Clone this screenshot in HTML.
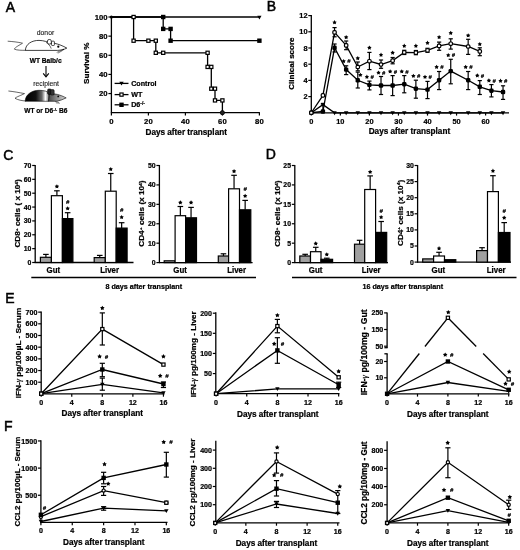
<!DOCTYPE html>
<html><head><meta charset="utf-8"><style>
html,body{margin:0;padding:0;background:#fff;}
svg{display:block;font-family:"Liberation Sans", sans-serif;will-change:transform;}
</style></head><body>
<svg width="520" height="550" viewBox="0 0 520 550">
<rect width="520" height="550" fill="#fff"/>
<text x="10.30" y="12.20" font-size="14" text-anchor="middle" font-weight="normal" fill="#000" stroke="#000" stroke-width="0.5">A</text>
<line x1="111.40" y1="16.50" x2="111.40" y2="113.20" stroke="#000" stroke-width="1.3"/>
<line x1="110.90" y1="112.70" x2="259.90" y2="112.70" stroke="#000" stroke-width="1.3"/>
<line x1="108.40" y1="93.56" x2="111.40" y2="93.56" stroke="#000" stroke-width="1.2"/>
<text x="107.60" y="96.33" font-size="7.7" text-anchor="end" font-weight="bold" fill="#000" stroke="#000" stroke-width="0.22">20</text>
<line x1="108.40" y1="74.42" x2="111.40" y2="74.42" stroke="#000" stroke-width="1.2"/>
<text x="107.60" y="77.19" font-size="7.7" text-anchor="end" font-weight="bold" fill="#000" stroke="#000" stroke-width="0.22">40</text>
<line x1="108.40" y1="55.28" x2="111.40" y2="55.28" stroke="#000" stroke-width="1.2"/>
<text x="107.60" y="58.05" font-size="7.7" text-anchor="end" font-weight="bold" fill="#000" stroke="#000" stroke-width="0.22">60</text>
<line x1="108.40" y1="36.14" x2="111.40" y2="36.14" stroke="#000" stroke-width="1.2"/>
<text x="107.60" y="38.91" font-size="7.7" text-anchor="end" font-weight="bold" fill="#000" stroke="#000" stroke-width="0.22">80</text>
<line x1="108.40" y1="17.00" x2="111.40" y2="17.00" stroke="#000" stroke-width="1.2"/>
<text x="107.60" y="19.77" font-size="7.7" text-anchor="end" font-weight="bold" fill="#000" stroke="#000" stroke-width="0.22">100</text>
<line x1="111.40" y1="112.70" x2="111.40" y2="115.50" stroke="#000" stroke-width="1.2"/>
<text x="111.40" y="123.60" font-size="7.7" text-anchor="middle" font-weight="bold" fill="#000" stroke="#000" stroke-width="0.22">0</text>
<line x1="148.40" y1="112.70" x2="148.40" y2="115.50" stroke="#000" stroke-width="1.2"/>
<text x="148.40" y="123.60" font-size="7.7" text-anchor="middle" font-weight="bold" fill="#000" stroke="#000" stroke-width="0.22">20</text>
<line x1="185.40" y1="112.70" x2="185.40" y2="115.50" stroke="#000" stroke-width="1.2"/>
<text x="185.40" y="123.60" font-size="7.7" text-anchor="middle" font-weight="bold" fill="#000" stroke="#000" stroke-width="0.22">40</text>
<line x1="222.40" y1="112.70" x2="222.40" y2="115.50" stroke="#000" stroke-width="1.2"/>
<text x="222.40" y="123.60" font-size="7.7" text-anchor="middle" font-weight="bold" fill="#000" stroke="#000" stroke-width="0.22">60</text>
<line x1="259.40" y1="112.70" x2="259.40" y2="115.50" stroke="#000" stroke-width="1.2"/>
<text x="259.40" y="123.60" font-size="7.7" text-anchor="middle" font-weight="bold" fill="#000" stroke="#000" stroke-width="0.22">80</text>
<text x="186.20" y="134.60" font-size="8.2" text-anchor="middle" font-weight="bold" fill="#000" stroke="#000" stroke-width="0.22">Days after transplant</text>
<text x="89.10" y="63.25" font-size="7.6" text-anchor="middle" font-weight="bold" fill="#000" stroke="#000" stroke-width="0.22" transform="rotate(-90 89.10 63.25)" textLength="41.5" lengthAdjust="spacingAndGlyphs">Survival %</text>
<line x1="111.40" y1="17.00" x2="259.40" y2="17.00" stroke="#000" stroke-width="1.3"/>
<polygon points="257.30,15.73 261.50,15.73 259.40,19.40" fill="#000"/>
<polyline points="111.40,17.00 163.20,17.00 163.20,28.90 170.60,28.90 170.60,40.70 259.40,40.70" fill="none" stroke="#000" stroke-width="1.3" stroke-linejoin="miter"/>
<rect x="161.00" y="14.80" width="4.40" height="4.40" fill="#000"/>
<rect x="161.00" y="26.70" width="4.40" height="4.40" fill="#000"/>
<rect x="168.40" y="26.70" width="4.40" height="4.40" fill="#000"/>
<rect x="168.40" y="38.50" width="4.40" height="4.40" fill="#000"/>
<rect x="257.20" y="38.50" width="4.40" height="4.40" fill="#000"/>
<polyline points="111.40,17.00 133.60,17.00 133.60,40.70 155.80,40.70 155.80,52.80 207.60,52.80 207.60,66.90 211.30,66.90 211.30,88.70 215.00,88.70 215.00,100.40 222.40,100.40 222.40,112.70" fill="none" stroke="#000" stroke-width="1.3" stroke-linejoin="miter"/>
<rect x="132.00" y="15.40" width="3.20" height="3.20" fill="#fff" stroke="#000" stroke-width="1.2"/>
<rect x="132.00" y="39.10" width="3.20" height="3.20" fill="#fff" stroke="#000" stroke-width="1.2"/>
<rect x="146.80" y="39.10" width="3.20" height="3.20" fill="#fff" stroke="#000" stroke-width="1.2"/>
<rect x="154.20" y="39.10" width="3.20" height="3.20" fill="#fff" stroke="#000" stroke-width="1.2"/>
<rect x="154.20" y="51.20" width="3.20" height="3.20" fill="#fff" stroke="#000" stroke-width="1.2"/>
<rect x="161.60" y="51.20" width="3.20" height="3.20" fill="#fff" stroke="#000" stroke-width="1.2"/>
<rect x="206.00" y="51.20" width="3.20" height="3.20" fill="#fff" stroke="#000" stroke-width="1.2"/>
<rect x="206.00" y="65.30" width="3.20" height="3.20" fill="#fff" stroke="#000" stroke-width="1.2"/>
<rect x="209.70" y="65.30" width="3.20" height="3.20" fill="#fff" stroke="#000" stroke-width="1.2"/>
<rect x="209.70" y="87.10" width="3.20" height="3.20" fill="#fff" stroke="#000" stroke-width="1.2"/>
<rect x="213.40" y="87.10" width="3.20" height="3.20" fill="#fff" stroke="#000" stroke-width="1.2"/>
<rect x="213.40" y="98.80" width="3.20" height="3.20" fill="#fff" stroke="#000" stroke-width="1.2"/>
<rect x="220.80" y="98.80" width="3.20" height="3.20" fill="#fff" stroke="#000" stroke-width="1.2"/>
<circle cx="222.40" cy="112.70" r="2.1" fill="#222" stroke="#000" stroke-width="0.8"/>
<circle cx="111.40" cy="17.00" r="1.6" fill="#000"/>
<line x1="114.60" y1="83.40" x2="128.50" y2="83.40" stroke="#000" stroke-width="1.3"/>
<polygon points="119.30,81.75 123.70,81.75 121.50,85.60" fill="#000"/>
<text x="131.20" y="86.00" font-size="7.15" text-anchor="start" font-weight="bold" fill="#000" stroke="#000" stroke-width="0.22">Control</text>
<line x1="114.60" y1="94.60" x2="128.50" y2="94.60" stroke="#000" stroke-width="1.3"/>
<rect x="119.90" y="93.00" width="3.20" height="3.20" fill="#fff" stroke="#000" stroke-width="1.2"/>
<text x="131.20" y="97.20" font-size="7.15" text-anchor="start" font-weight="bold" fill="#000" stroke="#000" stroke-width="0.22">WT</text>
<line x1="114.60" y1="104.80" x2="128.50" y2="104.80" stroke="#000" stroke-width="1.3"/>
<rect x="119.30" y="102.60" width="4.40" height="4.40" fill="#000"/>
<text x="131.20" y="107.40" font-size="7.15" text-anchor="start" font-weight="bold" fill="#000" stroke="#000" stroke-width="0.22">D6<tspan font-size="4.8" dy="-2.8">-/-</tspan></text>
<text x="45.50" y="34.80" font-size="6.8" text-anchor="middle" font-weight="normal" fill="#222" stroke="#222" stroke-width="0.12">donor</text>
<text x="45.70" y="62.60" font-size="6.6" text-anchor="middle" font-weight="bold" fill="#000" stroke="#000" stroke-width="0.22">WT Balb/c</text>
<text x="46.10" y="85.90" font-size="6.8" text-anchor="middle" font-weight="normal" fill="#222" stroke="#222" stroke-width="0.12">recipient</text>
<text x="45.90" y="113.30" font-size="6.6" text-anchor="middle" font-weight="bold" fill="#000" stroke="#000" stroke-width="0.22">WT or D6<tspan font-size="4.3" dy="-2.6">-/-</tspan><tspan dy="2.6"> B6</tspan></text>
<line x1="46.00" y1="66.00" x2="46.00" y2="76.60" stroke="#000" stroke-width="1.1"/>
<polyline points="43.20,73.40 46.00,76.80 48.80,73.40" fill="none" stroke="#000" stroke-width="1.1" stroke-linejoin="miter"/>
<path d="M7.7,41.2 C12,41.5 18,42 22.5,43.2 C20,45 15,47 14.4,49.2 C17,50.3 22,50.4 26,50.3" fill="none" stroke="#000" stroke-width="0.6"/>
<path d="M25.4,50.4 C25.5,44 32,40.3 39,40.4 C44,40.5 48,42 51,43.6 L54.4,43.3 C59,44.2 63,46 66.8,48.1 C64,49.6 61,50.2 57.3,50.4 Z" fill="#fff" stroke="#000" stroke-width="0.75"/>
<path d="M46,42.3 C48.5,44 50.5,46 51.2,48.6" fill="none" stroke="#000" stroke-width="0.6"/>
<rect x="47.5" y="39.5" width="3.8" height="4.6" rx="1.5" fill="#fff" stroke="#000" stroke-width="0.7"/>
<rect x="51.5" y="41.2" width="2.9" height="4.3" rx="0.7" fill="#fff" stroke="#000" stroke-width="0.7"/>
<circle cx="58.3" cy="46.7" r="1.1" fill="#000"/>
<circle cx="63.2" cy="49.5" r="0.7" fill="#000"/>
<path d="M62.5,49.9 L56.7,52.4 M62.8,50.4 L57.8,53.2" stroke="#000" stroke-width="0.5" fill="none"/>
<defs><linearGradient id="bodyg" x1="0" x2="1" y1="0" y2="0"><stop offset="0" stop-color="#000"/><stop offset="0.45" stop-color="#111"/><stop offset="0.7" stop-color="#666"/><stop offset="0.85" stop-color="#fff"/><stop offset="1" stop-color="#777"/></linearGradient><linearGradient id="headg" x1="0" x2="1" y1="0" y2="0"><stop offset="0" stop-color="#444"/><stop offset="1" stop-color="#ddd"/></linearGradient></defs>
<path d="M8.4,91 C13,91.5 19,92.5 24.5,93.6 C22,95 16,97 15,98.3 C18,100 22,100.8 26,101" fill="none" stroke="#000" stroke-width="0.6"/>
<path d="M66.2,97.9 C60,94.6 55,93.3 49,93.8 L48.4,101.3 L57,101.3 C60,100.5 63,99.5 66.2,97.9 Z" fill="url(#headg)" stroke="#000" stroke-width="0.6"/>
<path d="M25.2,101.2 C25.3,94.5 32,90.3 39,90.3 C44,90.3 47.5,91.5 49,93 L48.5,101.3 Z" fill="url(#bodyg)" stroke="#000" stroke-width="0.6"/>
<rect x="47.6" y="88.9" width="3.6" height="5.5" rx="1.2" fill="#222" stroke="#000" stroke-width="0.5"/>
<rect x="50.6" y="89.6" width="3.6" height="5.5" rx="1.2" fill="#333" stroke="#000" stroke-width="0.5"/>
<circle cx="58.2" cy="96.4" r="0.9" fill="#000"/>
<path d="M55,101.6 L59,102.6 M56,102.9 L60,103.3" stroke="#000" stroke-width="0.4" fill="none"/>
<text x="271.50" y="11.40" font-size="14" text-anchor="middle" font-weight="normal" fill="#000" stroke="#000" stroke-width="0.5">B</text>
<line x1="311.30" y1="15.10" x2="311.30" y2="113.30" stroke="#000" stroke-width="1.3"/>
<line x1="310.80" y1="112.80" x2="509.00" y2="112.80" stroke="#000" stroke-width="1.3"/>
<line x1="308.30" y1="96.60" x2="311.30" y2="96.60" stroke="#000" stroke-width="1.2"/>
<text x="307.50" y="99.26" font-size="7.4" text-anchor="end" font-weight="bold" fill="#000" stroke="#000" stroke-width="0.22">2</text>
<line x1="308.30" y1="80.40" x2="311.30" y2="80.40" stroke="#000" stroke-width="1.2"/>
<text x="307.50" y="83.06" font-size="7.4" text-anchor="end" font-weight="bold" fill="#000" stroke="#000" stroke-width="0.22">4</text>
<line x1="308.30" y1="64.20" x2="311.30" y2="64.20" stroke="#000" stroke-width="1.2"/>
<text x="307.50" y="66.86" font-size="7.4" text-anchor="end" font-weight="bold" fill="#000" stroke="#000" stroke-width="0.22">6</text>
<line x1="308.30" y1="48.00" x2="311.30" y2="48.00" stroke="#000" stroke-width="1.2"/>
<text x="307.50" y="50.66" font-size="7.4" text-anchor="end" font-weight="bold" fill="#000" stroke="#000" stroke-width="0.22">8</text>
<line x1="308.30" y1="31.80" x2="311.30" y2="31.80" stroke="#000" stroke-width="1.2"/>
<text x="307.50" y="34.46" font-size="7.4" text-anchor="end" font-weight="bold" fill="#000" stroke="#000" stroke-width="0.22">10</text>
<line x1="308.30" y1="15.60" x2="311.30" y2="15.60" stroke="#000" stroke-width="1.2"/>
<text x="307.50" y="18.26" font-size="7.4" text-anchor="end" font-weight="bold" fill="#000" stroke="#000" stroke-width="0.22">12</text>
<line x1="311.30" y1="112.80" x2="311.30" y2="115.60" stroke="#000" stroke-width="1.2"/>
<text x="311.30" y="123.60" font-size="7.4" text-anchor="middle" font-weight="bold" fill="#000" stroke="#000" stroke-width="0.22">0</text>
<line x1="340.35" y1="112.80" x2="340.35" y2="115.60" stroke="#000" stroke-width="1.2"/>
<text x="340.35" y="123.60" font-size="7.4" text-anchor="middle" font-weight="bold" fill="#000" stroke="#000" stroke-width="0.22">10</text>
<line x1="369.40" y1="112.80" x2="369.40" y2="115.60" stroke="#000" stroke-width="1.2"/>
<text x="369.40" y="123.60" font-size="7.4" text-anchor="middle" font-weight="bold" fill="#000" stroke="#000" stroke-width="0.22">20</text>
<line x1="398.45" y1="112.80" x2="398.45" y2="115.60" stroke="#000" stroke-width="1.2"/>
<text x="398.45" y="123.60" font-size="7.4" text-anchor="middle" font-weight="bold" fill="#000" stroke="#000" stroke-width="0.22">30</text>
<line x1="427.50" y1="112.80" x2="427.50" y2="115.60" stroke="#000" stroke-width="1.2"/>
<text x="427.50" y="123.60" font-size="7.4" text-anchor="middle" font-weight="bold" fill="#000" stroke="#000" stroke-width="0.22">40</text>
<line x1="456.55" y1="112.80" x2="456.55" y2="115.60" stroke="#000" stroke-width="1.2"/>
<text x="456.55" y="123.60" font-size="7.4" text-anchor="middle" font-weight="bold" fill="#000" stroke="#000" stroke-width="0.22">50</text>
<line x1="485.60" y1="112.80" x2="485.60" y2="115.60" stroke="#000" stroke-width="1.2"/>
<text x="485.60" y="123.60" font-size="7.4" text-anchor="middle" font-weight="bold" fill="#000" stroke="#000" stroke-width="0.22">60</text>
<text x="409.40" y="133.90" font-size="8.2" text-anchor="middle" font-weight="bold" fill="#000" stroke="#000" stroke-width="0.22">Days after transplant</text>
<text x="293.80" y="63.55" font-size="8.1" text-anchor="middle" font-weight="bold" fill="#000" stroke="#000" stroke-width="0.22" transform="rotate(-90 293.80 63.55)" textLength="52.3" lengthAdjust="spacingAndGlyphs">Clinical score</text>
<polyline points="311.30,112.80 322.92,104.60 334.54,112.80 503.03,112.80" fill="none" stroke="#000" stroke-width="1.3" stroke-linejoin="miter"/>
<line x1="322.92" y1="103.40" x2="322.92" y2="104.60" stroke="#000" stroke-width="1.2"/>
<line x1="321.12" y1="103.40" x2="324.72" y2="103.40" stroke="#000" stroke-width="1.2"/>
<polygon points="320.72,102.95 325.12,102.95 322.92,106.80" fill="#000"/>
<polygon points="332.34,111.35 336.74,111.35 334.54,115.20" fill="#000"/>
<polygon points="343.96,111.35 348.36,111.35 346.16,115.20" fill="#000"/>
<polygon points="355.58,111.35 359.98,111.35 357.78,115.20" fill="#000"/>
<polygon points="367.20,111.35 371.60,111.35 369.40,115.20" fill="#000"/>
<polygon points="378.82,111.35 383.22,111.35 381.02,115.20" fill="#000"/>
<polygon points="390.44,111.35 394.84,111.35 392.64,115.20" fill="#000"/>
<polygon points="402.06,111.35 406.46,111.35 404.26,115.20" fill="#000"/>
<polygon points="413.68,111.35 418.08,111.35 415.88,115.20" fill="#000"/>
<polygon points="425.30,111.35 429.70,111.35 427.50,115.20" fill="#000"/>
<polygon points="436.92,111.35 441.32,111.35 439.12,115.20" fill="#000"/>
<polygon points="448.54,111.35 452.94,111.35 450.74,115.20" fill="#000"/>
<polygon points="465.97,111.35 470.37,111.35 468.17,115.20" fill="#000"/>
<polygon points="477.59,111.35 481.99,111.35 479.79,115.20" fill="#000"/>
<polygon points="489.21,111.35 493.61,111.35 491.41,115.20" fill="#000"/>
<polygon points="500.83,111.35 505.23,111.35 503.03,115.20" fill="#000"/>
<polyline points="311.30,112.75 322.92,111.50 334.54,47.80 346.16,69.60 357.78,80.30 369.40,84.90 381.02,85.50 392.64,85.50 404.26,84.20 415.88,88.70 427.50,89.60 439.12,80.20 450.74,71.10 468.17,80.20 479.79,86.80 491.41,90.70 503.03,92.00" fill="none" stroke="#000" stroke-width="1.3" stroke-linejoin="miter"/>
<polyline points="311.30,112.75 322.92,95.40 334.54,32.40 346.16,45.40 357.78,67.00 369.40,61.20 381.02,64.50 392.64,60.60 404.26,52.40 415.88,52.60 427.50,50.30 439.12,45.90 450.74,43.70 468.17,46.50 479.79,51.40" fill="none" stroke="#000" stroke-width="1.3" stroke-linejoin="miter"/>
<line x1="322.92" y1="104.00" x2="322.92" y2="111.50" stroke="#000" stroke-width="1.2"/>
<line x1="320.82" y1="104.00" x2="325.02" y2="104.00" stroke="#000" stroke-width="1.2"/>
<line x1="320.82" y1="111.50" x2="325.02" y2="111.50" stroke="#000" stroke-width="1.2"/>
<line x1="334.54" y1="44.00" x2="334.54" y2="52.00" stroke="#000" stroke-width="1.2"/>
<line x1="332.44" y1="44.00" x2="336.64" y2="44.00" stroke="#000" stroke-width="1.2"/>
<line x1="332.44" y1="52.00" x2="336.64" y2="52.00" stroke="#000" stroke-width="1.2"/>
<line x1="346.16" y1="65.80" x2="346.16" y2="74.60" stroke="#000" stroke-width="1.2"/>
<line x1="344.06" y1="65.80" x2="348.26" y2="65.80" stroke="#000" stroke-width="1.2"/>
<line x1="344.06" y1="74.60" x2="348.26" y2="74.60" stroke="#000" stroke-width="1.2"/>
<line x1="357.78" y1="72.10" x2="357.78" y2="88.00" stroke="#000" stroke-width="1.2"/>
<line x1="355.68" y1="72.10" x2="359.88" y2="72.10" stroke="#000" stroke-width="1.2"/>
<line x1="355.68" y1="88.00" x2="359.88" y2="88.00" stroke="#000" stroke-width="1.2"/>
<line x1="369.40" y1="81.10" x2="369.40" y2="89.90" stroke="#000" stroke-width="1.2"/>
<line x1="367.30" y1="81.10" x2="371.50" y2="81.10" stroke="#000" stroke-width="1.2"/>
<line x1="367.30" y1="89.90" x2="371.50" y2="89.90" stroke="#000" stroke-width="1.2"/>
<line x1="381.02" y1="76.50" x2="381.02" y2="94.50" stroke="#000" stroke-width="1.2"/>
<line x1="378.92" y1="76.50" x2="383.12" y2="76.50" stroke="#000" stroke-width="1.2"/>
<line x1="378.92" y1="94.50" x2="383.12" y2="94.50" stroke="#000" stroke-width="1.2"/>
<line x1="392.64" y1="75.60" x2="392.64" y2="95.60" stroke="#000" stroke-width="1.2"/>
<line x1="390.54" y1="75.60" x2="394.74" y2="75.60" stroke="#000" stroke-width="1.2"/>
<line x1="390.54" y1="95.60" x2="394.74" y2="95.60" stroke="#000" stroke-width="1.2"/>
<line x1="404.26" y1="75.60" x2="404.26" y2="92.80" stroke="#000" stroke-width="1.2"/>
<line x1="402.16" y1="75.60" x2="406.36" y2="75.60" stroke="#000" stroke-width="1.2"/>
<line x1="402.16" y1="92.80" x2="406.36" y2="92.80" stroke="#000" stroke-width="1.2"/>
<line x1="415.88" y1="80.20" x2="415.88" y2="98.20" stroke="#000" stroke-width="1.2"/>
<line x1="413.78" y1="80.20" x2="417.98" y2="80.20" stroke="#000" stroke-width="1.2"/>
<line x1="413.78" y1="98.20" x2="417.98" y2="98.20" stroke="#000" stroke-width="1.2"/>
<line x1="427.50" y1="81.40" x2="427.50" y2="98.60" stroke="#000" stroke-width="1.2"/>
<line x1="425.40" y1="81.40" x2="429.60" y2="81.40" stroke="#000" stroke-width="1.2"/>
<line x1="425.40" y1="98.60" x2="429.60" y2="98.60" stroke="#000" stroke-width="1.2"/>
<line x1="439.12" y1="71.50" x2="439.12" y2="89.60" stroke="#000" stroke-width="1.2"/>
<line x1="437.02" y1="71.50" x2="441.22" y2="71.50" stroke="#000" stroke-width="1.2"/>
<line x1="437.02" y1="89.60" x2="441.22" y2="89.60" stroke="#000" stroke-width="1.2"/>
<line x1="450.74" y1="59.30" x2="450.74" y2="83.80" stroke="#000" stroke-width="1.2"/>
<line x1="448.64" y1="59.30" x2="452.84" y2="59.30" stroke="#000" stroke-width="1.2"/>
<line x1="448.64" y1="83.80" x2="452.84" y2="83.80" stroke="#000" stroke-width="1.2"/>
<line x1="468.17" y1="71.50" x2="468.17" y2="89.60" stroke="#000" stroke-width="1.2"/>
<line x1="466.07" y1="71.50" x2="470.27" y2="71.50" stroke="#000" stroke-width="1.2"/>
<line x1="466.07" y1="89.60" x2="470.27" y2="89.60" stroke="#000" stroke-width="1.2"/>
<line x1="479.79" y1="80.60" x2="479.79" y2="94.50" stroke="#000" stroke-width="1.2"/>
<line x1="477.69" y1="80.60" x2="481.89" y2="80.60" stroke="#000" stroke-width="1.2"/>
<line x1="477.69" y1="94.50" x2="481.89" y2="94.50" stroke="#000" stroke-width="1.2"/>
<line x1="491.41" y1="84.60" x2="491.41" y2="96.90" stroke="#000" stroke-width="1.2"/>
<line x1="489.31" y1="84.60" x2="493.51" y2="84.60" stroke="#000" stroke-width="1.2"/>
<line x1="489.31" y1="96.90" x2="493.51" y2="96.90" stroke="#000" stroke-width="1.2"/>
<line x1="503.03" y1="85.80" x2="503.03" y2="99.40" stroke="#000" stroke-width="1.2"/>
<line x1="500.93" y1="85.80" x2="505.13" y2="85.80" stroke="#000" stroke-width="1.2"/>
<line x1="500.93" y1="99.40" x2="505.13" y2="99.40" stroke="#000" stroke-width="1.2"/>
<line x1="334.54" y1="27.60" x2="334.54" y2="36.80" stroke="#000" stroke-width="1.2"/>
<line x1="332.44" y1="27.60" x2="336.64" y2="27.60" stroke="#000" stroke-width="1.2"/>
<line x1="332.44" y1="36.80" x2="336.64" y2="36.80" stroke="#000" stroke-width="1.2"/>
<line x1="346.16" y1="41.00" x2="346.16" y2="49.70" stroke="#000" stroke-width="1.2"/>
<line x1="344.06" y1="41.00" x2="348.26" y2="41.00" stroke="#000" stroke-width="1.2"/>
<line x1="344.06" y1="49.70" x2="348.26" y2="49.70" stroke="#000" stroke-width="1.2"/>
<line x1="357.78" y1="62.00" x2="357.78" y2="70.80" stroke="#000" stroke-width="1.2"/>
<line x1="355.68" y1="62.00" x2="359.88" y2="62.00" stroke="#000" stroke-width="1.2"/>
<line x1="355.68" y1="70.80" x2="359.88" y2="70.80" stroke="#000" stroke-width="1.2"/>
<line x1="369.40" y1="52.40" x2="369.40" y2="69.60" stroke="#000" stroke-width="1.2"/>
<line x1="367.30" y1="52.40" x2="371.50" y2="52.40" stroke="#000" stroke-width="1.2"/>
<line x1="367.30" y1="69.60" x2="371.50" y2="69.60" stroke="#000" stroke-width="1.2"/>
<line x1="381.02" y1="60.00" x2="381.02" y2="68.30" stroke="#000" stroke-width="1.2"/>
<line x1="378.92" y1="60.00" x2="383.12" y2="60.00" stroke="#000" stroke-width="1.2"/>
<line x1="378.92" y1="68.30" x2="383.12" y2="68.30" stroke="#000" stroke-width="1.2"/>
<line x1="392.64" y1="57.50" x2="392.64" y2="63.80" stroke="#000" stroke-width="1.2"/>
<line x1="390.54" y1="57.50" x2="394.74" y2="57.50" stroke="#000" stroke-width="1.2"/>
<line x1="390.54" y1="63.80" x2="394.74" y2="63.80" stroke="#000" stroke-width="1.2"/>
<line x1="404.26" y1="50.30" x2="404.26" y2="54.50" stroke="#000" stroke-width="1.2"/>
<line x1="402.16" y1="50.30" x2="406.36" y2="50.30" stroke="#000" stroke-width="1.2"/>
<line x1="402.16" y1="54.50" x2="406.36" y2="54.50" stroke="#000" stroke-width="1.2"/>
<line x1="415.88" y1="50.50" x2="415.88" y2="54.70" stroke="#000" stroke-width="1.2"/>
<line x1="413.78" y1="50.50" x2="417.98" y2="50.50" stroke="#000" stroke-width="1.2"/>
<line x1="413.78" y1="54.70" x2="417.98" y2="54.70" stroke="#000" stroke-width="1.2"/>
<line x1="427.50" y1="48.30" x2="427.50" y2="52.30" stroke="#000" stroke-width="1.2"/>
<line x1="425.40" y1="48.30" x2="429.60" y2="48.30" stroke="#000" stroke-width="1.2"/>
<line x1="425.40" y1="52.30" x2="429.60" y2="52.30" stroke="#000" stroke-width="1.2"/>
<line x1="439.12" y1="42.10" x2="439.12" y2="50.30" stroke="#000" stroke-width="1.2"/>
<line x1="437.02" y1="42.10" x2="441.22" y2="42.10" stroke="#000" stroke-width="1.2"/>
<line x1="437.02" y1="50.30" x2="441.22" y2="50.30" stroke="#000" stroke-width="1.2"/>
<line x1="450.74" y1="38.80" x2="450.74" y2="49.10" stroke="#000" stroke-width="1.2"/>
<line x1="448.64" y1="38.80" x2="452.84" y2="38.80" stroke="#000" stroke-width="1.2"/>
<line x1="448.64" y1="49.10" x2="452.84" y2="49.10" stroke="#000" stroke-width="1.2"/>
<line x1="468.17" y1="39.30" x2="468.17" y2="54.40" stroke="#000" stroke-width="1.2"/>
<line x1="466.07" y1="39.30" x2="470.27" y2="39.30" stroke="#000" stroke-width="1.2"/>
<line x1="466.07" y1="54.40" x2="470.27" y2="54.40" stroke="#000" stroke-width="1.2"/>
<line x1="479.79" y1="47.80" x2="479.79" y2="55.70" stroke="#000" stroke-width="1.2"/>
<line x1="477.69" y1="47.80" x2="481.89" y2="47.80" stroke="#000" stroke-width="1.2"/>
<line x1="477.69" y1="55.70" x2="481.89" y2="55.70" stroke="#000" stroke-width="1.2"/>
<rect x="309.10" y="110.55" width="4.4" height="4.4" rx="1.3" fill="#000"/>
<rect x="320.72" y="109.30" width="4.4" height="4.4" rx="1.3" fill="#000"/>
<rect x="332.34" y="45.60" width="4.4" height="4.4" rx="1.3" fill="#000"/>
<rect x="343.96" y="67.40" width="4.4" height="4.4" rx="1.3" fill="#000"/>
<polygon points="343.66,58.90 344.40,60.18 345.85,60.49 344.86,61.59 345.01,63.06 343.66,62.47 342.31,63.06 342.46,61.59 341.47,60.49 342.92,60.18" fill="#000"/>
<text x="348.86" y="63.29" font-size="5.8" text-anchor="middle" font-weight="bold" fill="#000" stroke="#000" stroke-width="0.2" font-style="italic">#</text>
<rect x="355.58" y="78.10" width="4.4" height="4.4" rx="1.3" fill="#000"/>
<polygon points="360.38,72.70 361.12,73.98 362.57,74.29 361.58,75.39 361.73,76.86 360.38,76.27 359.03,76.86 359.18,75.39 358.19,74.29 359.64,73.98" fill="#000"/>
<rect x="367.20" y="82.70" width="4.4" height="4.4" rx="1.3" fill="#000"/>
<polygon points="366.90,74.60 367.64,75.88 369.09,76.19 368.10,77.29 368.25,78.76 366.90,78.17 365.55,78.76 365.70,77.29 364.71,76.19 366.16,75.88" fill="#000"/>
<text x="372.10" y="78.99" font-size="5.8" text-anchor="middle" font-weight="bold" fill="#000" stroke="#000" stroke-width="0.2" font-style="italic">#</text>
<rect x="378.82" y="83.30" width="4.4" height="4.4" rx="1.3" fill="#000"/>
<polygon points="378.52,70.40 379.26,71.68 380.71,71.99 379.72,73.09 379.87,74.56 378.52,73.97 377.17,74.56 377.32,73.09 376.33,71.99 377.78,71.68" fill="#000"/>
<text x="383.72" y="74.79" font-size="5.8" text-anchor="middle" font-weight="bold" fill="#000" stroke="#000" stroke-width="0.2" font-style="italic">#</text>
<rect x="390.44" y="83.30" width="4.4" height="4.4" rx="1.3" fill="#000"/>
<polygon points="390.14,69.20 390.88,70.48 392.33,70.79 391.34,71.89 391.49,73.36 390.14,72.77 388.79,73.36 388.94,71.89 387.95,70.79 389.40,70.48" fill="#000"/>
<text x="395.34" y="73.59" font-size="5.8" text-anchor="middle" font-weight="bold" fill="#000" stroke="#000" stroke-width="0.2" font-style="italic">#</text>
<rect x="402.06" y="82.00" width="4.4" height="4.4" rx="1.3" fill="#000"/>
<polygon points="401.76,69.20 402.50,70.48 403.95,70.79 402.96,71.89 403.11,73.36 401.76,72.77 400.41,73.36 400.56,71.89 399.57,70.79 401.02,70.48" fill="#000"/>
<text x="406.96" y="73.59" font-size="5.8" text-anchor="middle" font-weight="bold" fill="#000" stroke="#000" stroke-width="0.2" font-style="italic">#</text>
<rect x="413.68" y="86.50" width="4.4" height="4.4" rx="1.3" fill="#000"/>
<polygon points="413.38,73.70 414.12,74.98 415.57,75.29 414.58,76.39 414.73,77.86 413.38,77.27 412.03,77.86 412.18,76.39 411.19,75.29 412.64,74.98" fill="#000"/>
<text x="418.58" y="78.09" font-size="5.8" text-anchor="middle" font-weight="bold" fill="#000" stroke="#000" stroke-width="0.2" font-style="italic">#</text>
<rect x="425.30" y="87.40" width="4.4" height="4.4" rx="1.3" fill="#000"/>
<polygon points="425.00,74.70 425.74,75.98 427.19,76.29 426.20,77.39 426.35,78.86 425.00,78.27 423.65,78.86 423.80,77.39 422.81,76.29 424.26,75.98" fill="#000"/>
<text x="430.20" y="79.09" font-size="5.8" text-anchor="middle" font-weight="bold" fill="#000" stroke="#000" stroke-width="0.2" font-style="italic">#</text>
<rect x="436.92" y="78.00" width="4.4" height="4.4" rx="1.3" fill="#000"/>
<polygon points="436.62,64.80 437.36,66.08 438.81,66.39 437.82,67.49 437.97,68.96 436.62,68.36 435.27,68.96 435.42,67.49 434.43,66.39 435.88,66.08" fill="#000"/>
<text x="441.82" y="69.19" font-size="5.8" text-anchor="middle" font-weight="bold" fill="#000" stroke="#000" stroke-width="0.2" font-style="italic">#</text>
<rect x="448.54" y="68.90" width="4.4" height="4.4" rx="1.3" fill="#000"/>
<polygon points="448.24,52.90 448.98,54.18 450.43,54.49 449.44,55.59 449.59,57.06 448.24,56.47 446.89,57.06 447.04,55.59 446.05,54.49 447.50,54.18" fill="#000"/>
<text x="453.44" y="57.29" font-size="5.8" text-anchor="middle" font-weight="bold" fill="#000" stroke="#000" stroke-width="0.2" font-style="italic">#</text>
<rect x="465.97" y="78.00" width="4.4" height="4.4" rx="1.3" fill="#000"/>
<polygon points="465.67,64.80 466.41,66.08 467.86,66.39 466.87,67.49 467.02,68.96 465.67,68.36 464.32,68.96 464.47,67.49 463.48,66.39 464.93,66.08" fill="#000"/>
<text x="470.87" y="69.19" font-size="5.8" text-anchor="middle" font-weight="bold" fill="#000" stroke="#000" stroke-width="0.2" font-style="italic">#</text>
<rect x="477.59" y="84.60" width="4.4" height="4.4" rx="1.3" fill="#000"/>
<polygon points="477.29,73.30 478.03,74.58 479.48,74.89 478.49,75.99 478.64,77.46 477.29,76.86 475.94,77.46 476.09,75.99 475.10,74.89 476.55,74.58" fill="#000"/>
<text x="482.49" y="77.69" font-size="5.8" text-anchor="middle" font-weight="bold" fill="#000" stroke="#000" stroke-width="0.2" font-style="italic">#</text>
<rect x="489.21" y="88.50" width="4.4" height="4.4" rx="1.3" fill="#000"/>
<polygon points="488.91,78.30 489.65,79.58 491.10,79.89 490.11,80.99 490.26,82.46 488.91,81.86 487.56,82.46 487.71,80.99 486.72,79.89 488.17,79.58" fill="#000"/>
<text x="494.11" y="82.69" font-size="5.8" text-anchor="middle" font-weight="bold" fill="#000" stroke="#000" stroke-width="0.2" font-style="italic">#</text>
<rect x="500.83" y="89.80" width="4.4" height="4.4" rx="1.3" fill="#000"/>
<polygon points="500.53,78.60 501.27,79.88 502.72,80.19 501.73,81.29 501.88,82.76 500.53,82.17 499.18,82.76 499.33,81.29 498.34,80.19 499.79,79.88" fill="#000"/>
<text x="505.73" y="82.99" font-size="5.8" text-anchor="middle" font-weight="bold" fill="#000" stroke="#000" stroke-width="0.2" font-style="italic">#</text>
<rect x="309.60" y="111.05" width="3.4" height="3.4" rx="1.1" fill="#fff" stroke="#000" stroke-width="1.2"/>
<rect x="321.22" y="93.70" width="3.4" height="3.4" rx="1.1" fill="#fff" stroke="#000" stroke-width="1.2"/>
<rect x="332.84" y="30.70" width="3.4" height="3.4" rx="1.1" fill="#fff" stroke="#000" stroke-width="1.2"/>
<polygon points="334.54,20.10 335.28,21.38 336.73,21.69 335.74,22.79 335.89,24.26 334.54,23.66 333.19,24.26 333.34,22.79 332.35,21.69 333.80,21.38" fill="#000"/>
<rect x="344.46" y="43.70" width="3.4" height="3.4" rx="1.1" fill="#fff" stroke="#000" stroke-width="1.2"/>
<polygon points="346.16,35.00 346.90,36.28 348.35,36.59 347.36,37.69 347.51,39.16 346.16,38.56 344.81,39.16 344.96,37.69 343.97,36.59 345.42,36.28" fill="#000"/>
<rect x="356.08" y="65.30" width="3.4" height="3.4" rx="1.1" fill="#fff" stroke="#000" stroke-width="1.2"/>
<polygon points="357.78,56.00 358.52,57.28 359.97,57.59 358.98,58.69 359.13,60.16 357.78,59.56 356.43,60.16 356.58,58.69 355.59,57.59 357.04,57.28" fill="#000"/>
<rect x="367.70" y="59.50" width="3.4" height="3.4" rx="1.1" fill="#fff" stroke="#000" stroke-width="1.2"/>
<polygon points="369.40,45.50 370.14,46.78 371.59,47.09 370.60,48.19 370.75,49.66 369.40,49.06 368.05,49.66 368.20,48.19 367.21,47.09 368.66,46.78" fill="#000"/>
<rect x="379.32" y="62.80" width="3.4" height="3.4" rx="1.1" fill="#fff" stroke="#000" stroke-width="1.2"/>
<polygon points="381.02,52.60 381.76,53.88 383.21,54.19 382.22,55.29 382.37,56.76 381.02,56.16 379.67,56.76 379.82,55.29 378.83,54.19 380.28,53.88" fill="#000"/>
<rect x="390.94" y="58.90" width="3.4" height="3.4" rx="1.1" fill="#fff" stroke="#000" stroke-width="1.2"/>
<polygon points="392.64,50.50 393.38,51.78 394.83,52.09 393.84,53.19 393.99,54.66 392.64,54.06 391.29,54.66 391.44,53.19 390.45,52.09 391.90,51.78" fill="#000"/>
<rect x="402.56" y="50.70" width="3.4" height="3.4" rx="1.1" fill="#fff" stroke="#000" stroke-width="1.2"/>
<polygon points="404.26,43.60 405.00,44.88 406.45,45.19 405.46,46.29 405.61,47.76 404.26,47.16 402.91,47.76 403.06,46.29 402.07,45.19 403.52,44.88" fill="#000"/>
<rect x="414.18" y="50.90" width="3.4" height="3.4" rx="1.1" fill="#fff" stroke="#000" stroke-width="1.2"/>
<polygon points="415.88,43.60 416.62,44.88 418.07,45.19 417.08,46.29 417.23,47.76 415.88,47.16 414.53,47.76 414.68,46.29 413.69,45.19 415.14,44.88" fill="#000"/>
<rect x="425.80" y="48.60" width="3.4" height="3.4" rx="1.1" fill="#fff" stroke="#000" stroke-width="1.2"/>
<polygon points="427.50,40.60 428.24,41.88 429.69,42.19 428.70,43.29 428.85,44.76 427.50,44.16 426.15,44.76 426.30,43.29 425.31,42.19 426.76,41.88" fill="#000"/>
<rect x="437.42" y="44.20" width="3.4" height="3.4" rx="1.1" fill="#fff" stroke="#000" stroke-width="1.2"/>
<polygon points="439.12,34.90 439.86,36.18 441.31,36.49 440.32,37.59 440.47,39.06 439.12,38.47 437.77,39.06 437.92,37.59 436.93,36.49 438.38,36.18" fill="#000"/>
<rect x="449.04" y="42.00" width="3.4" height="3.4" rx="1.1" fill="#fff" stroke="#000" stroke-width="1.2"/>
<polygon points="450.74,30.80 451.48,32.08 452.93,32.39 451.94,33.49 452.09,34.96 450.74,34.37 449.39,34.96 449.54,33.49 448.55,32.39 450.00,32.08" fill="#000"/>
<rect x="466.47" y="44.80" width="3.4" height="3.4" rx="1.1" fill="#fff" stroke="#000" stroke-width="1.2"/>
<polygon points="468.17,33.20 468.91,34.48 470.36,34.79 469.37,35.89 469.52,37.36 468.17,36.77 466.82,37.36 466.97,35.89 465.98,34.79 467.43,34.48" fill="#000"/>
<rect x="478.09" y="49.70" width="3.4" height="3.4" rx="1.1" fill="#fff" stroke="#000" stroke-width="1.2"/>
<polygon points="479.79,41.90 480.53,43.18 481.98,43.49 480.99,44.59 481.14,46.06 479.79,45.47 478.44,46.06 478.59,44.59 477.60,43.49 479.05,43.18" fill="#000"/>
<text x="8.40" y="160.00" font-size="14" text-anchor="middle" font-weight="normal" fill="#000" stroke="#000" stroke-width="0.5">C</text>
<line x1="35.20" y1="165.00" x2="35.20" y2="263.00" stroke="#000" stroke-width="1.3"/>
<line x1="34.70" y1="262.50" x2="133.50" y2="262.50" stroke="#000" stroke-width="1.3"/>
<line x1="32.20" y1="262.50" x2="35.20" y2="262.50" stroke="#000" stroke-width="1.2"/>
<text x="31.40" y="264.98" font-size="6.9" text-anchor="end" font-weight="bold" fill="#000" stroke="#000" stroke-width="0.22">0</text>
<line x1="32.20" y1="248.64" x2="35.20" y2="248.64" stroke="#000" stroke-width="1.2"/>
<text x="31.40" y="251.12" font-size="6.9" text-anchor="end" font-weight="bold" fill="#000" stroke="#000" stroke-width="0.22">10</text>
<line x1="32.20" y1="234.78" x2="35.20" y2="234.78" stroke="#000" stroke-width="1.2"/>
<text x="31.40" y="237.26" font-size="6.9" text-anchor="end" font-weight="bold" fill="#000" stroke="#000" stroke-width="0.22">20</text>
<line x1="32.20" y1="220.92" x2="35.20" y2="220.92" stroke="#000" stroke-width="1.2"/>
<text x="31.40" y="223.40" font-size="6.9" text-anchor="end" font-weight="bold" fill="#000" stroke="#000" stroke-width="0.22">30</text>
<line x1="32.20" y1="207.06" x2="35.20" y2="207.06" stroke="#000" stroke-width="1.2"/>
<text x="31.40" y="209.54" font-size="6.9" text-anchor="end" font-weight="bold" fill="#000" stroke="#000" stroke-width="0.22">40</text>
<line x1="32.20" y1="193.20" x2="35.20" y2="193.20" stroke="#000" stroke-width="1.2"/>
<text x="31.40" y="195.68" font-size="6.9" text-anchor="end" font-weight="bold" fill="#000" stroke="#000" stroke-width="0.22">50</text>
<line x1="32.20" y1="179.34" x2="35.20" y2="179.34" stroke="#000" stroke-width="1.2"/>
<text x="31.40" y="181.82" font-size="6.9" text-anchor="end" font-weight="bold" fill="#000" stroke="#000" stroke-width="0.22">60</text>
<line x1="32.20" y1="165.48" x2="35.20" y2="165.48" stroke="#000" stroke-width="1.2"/>
<text x="31.40" y="167.96" font-size="6.9" text-anchor="end" font-weight="bold" fill="#000" stroke="#000" stroke-width="0.22">70</text>
<line x1="45.90" y1="254.40" x2="45.90" y2="257.30" stroke="#000" stroke-width="1.2"/>
<line x1="43.10" y1="254.40" x2="48.70" y2="254.40" stroke="#000" stroke-width="1.2"/>
<rect x="40.40" y="257.30" width="11.00" height="5.20" fill="#a0a0a0" stroke="#000" stroke-width="1.2"/>
<line x1="56.90" y1="190.80" x2="56.90" y2="195.70" stroke="#000" stroke-width="1.2"/>
<line x1="54.10" y1="190.80" x2="59.70" y2="190.80" stroke="#000" stroke-width="1.2"/>
<rect x="51.40" y="195.70" width="11.00" height="66.80" fill="#fff" stroke="#000" stroke-width="1.2"/>
<polygon points="56.90,184.20 57.64,185.48 59.09,185.79 58.10,186.89 58.25,188.36 56.90,187.76 55.55,188.36 55.70,186.89 54.71,185.79 56.16,185.48" fill="#000"/>
<line x1="67.65" y1="212.70" x2="67.65" y2="218.60" stroke="#000" stroke-width="1.2"/>
<line x1="64.85" y1="212.70" x2="70.45" y2="212.70" stroke="#000" stroke-width="1.2"/>
<rect x="62.40" y="218.60" width="10.50" height="43.90" fill="#000" stroke="#000" stroke-width="1.2"/>
<text x="67.65" y="204.06" font-size="6" text-anchor="middle" font-weight="bold" fill="#000" stroke="#000" stroke-width="0.2" font-style="italic">#</text>
<polygon points="67.65,206.20 68.39,207.48 69.84,207.79 68.85,208.89 69.00,210.36 67.65,209.76 66.30,210.36 66.45,208.89 65.46,207.79 66.91,207.48" fill="#000"/>
<line x1="99.75" y1="255.40" x2="99.75" y2="257.60" stroke="#000" stroke-width="1.2"/>
<line x1="96.95" y1="255.40" x2="102.55" y2="255.40" stroke="#000" stroke-width="1.2"/>
<rect x="94.20" y="257.60" width="11.10" height="4.90" fill="#a0a0a0" stroke="#000" stroke-width="1.2"/>
<line x1="110.75" y1="173.50" x2="110.75" y2="191.20" stroke="#000" stroke-width="1.2"/>
<line x1="107.95" y1="173.50" x2="113.55" y2="173.50" stroke="#000" stroke-width="1.2"/>
<rect x="105.30" y="191.20" width="10.90" height="71.30" fill="#fff" stroke="#000" stroke-width="1.2"/>
<polygon points="110.75,166.90 111.49,168.18 112.94,168.49 111.95,169.59 112.10,171.06 110.75,170.46 109.40,171.06 109.55,169.59 108.56,168.49 110.01,168.18" fill="#000"/>
<line x1="121.65" y1="222.70" x2="121.65" y2="228.10" stroke="#000" stroke-width="1.2"/>
<line x1="118.85" y1="222.70" x2="124.45" y2="222.70" stroke="#000" stroke-width="1.2"/>
<rect x="116.20" y="228.10" width="10.90" height="34.40" fill="#000" stroke="#000" stroke-width="1.2"/>
<text x="121.65" y="212.36" font-size="6" text-anchor="middle" font-weight="bold" fill="#000" stroke="#000" stroke-width="0.2" font-style="italic">#</text>
<polygon points="121.65,214.90 122.39,216.18 123.84,216.49 122.85,217.59 123.00,219.06 121.65,218.46 120.30,219.06 120.45,217.59 119.46,216.49 120.91,216.18" fill="#000"/>
<g transform="translate(53.40,272.6) scale(1,1.12)">
<text x="0.00" y="0.00" font-size="7.9" text-anchor="middle" font-weight="bold" fill="#000" stroke="#000" stroke-width="0.22">Gut</text>
</g>
<g transform="translate(109.60,272.6) scale(1,1.12)">
<text x="0.00" y="0.00" font-size="7.9" text-anchor="middle" font-weight="bold" fill="#000" stroke="#000" stroke-width="0.22">Liver</text>
</g>
<text x="20.40" y="213.40" font-size="7.0" text-anchor="middle" font-weight="bold" fill="#000" stroke="#000" stroke-width="0.22" transform="rotate(-90 20.40 213.40)" textLength="68.4" lengthAdjust="spacingAndGlyphs">CD8<tspan font-size="4.3" dy="-2.5">+</tspan><tspan dy="2.5"> cells ( x 10</tspan><tspan font-size="4.3" dy="-2.5">4</tspan><tspan dy="2.5">)</tspan></text>
<line x1="159.40" y1="165.00" x2="159.40" y2="263.10" stroke="#000" stroke-width="1.3"/>
<line x1="158.90" y1="262.60" x2="252.60" y2="262.60" stroke="#000" stroke-width="1.3"/>
<line x1="156.40" y1="262.60" x2="159.40" y2="262.60" stroke="#000" stroke-width="1.2"/>
<text x="155.60" y="265.08" font-size="6.9" text-anchor="end" font-weight="bold" fill="#000" stroke="#000" stroke-width="0.22">0</text>
<line x1="156.40" y1="243.18" x2="159.40" y2="243.18" stroke="#000" stroke-width="1.2"/>
<text x="155.60" y="245.66" font-size="6.9" text-anchor="end" font-weight="bold" fill="#000" stroke="#000" stroke-width="0.22">10</text>
<line x1="156.40" y1="223.76" x2="159.40" y2="223.76" stroke="#000" stroke-width="1.2"/>
<text x="155.60" y="226.24" font-size="6.9" text-anchor="end" font-weight="bold" fill="#000" stroke="#000" stroke-width="0.22">20</text>
<line x1="156.40" y1="204.34" x2="159.40" y2="204.34" stroke="#000" stroke-width="1.2"/>
<text x="155.60" y="206.82" font-size="6.9" text-anchor="end" font-weight="bold" fill="#000" stroke="#000" stroke-width="0.22">30</text>
<line x1="156.40" y1="184.92" x2="159.40" y2="184.92" stroke="#000" stroke-width="1.2"/>
<text x="155.60" y="187.40" font-size="6.9" text-anchor="end" font-weight="bold" fill="#000" stroke="#000" stroke-width="0.22">40</text>
<line x1="156.40" y1="165.50" x2="159.40" y2="165.50" stroke="#000" stroke-width="1.2"/>
<text x="155.60" y="167.98" font-size="6.9" text-anchor="end" font-weight="bold" fill="#000" stroke="#000" stroke-width="0.22">50</text>
<rect x="164.20" y="260.80" width="10.90" height="1.80" fill="#a0a0a0" stroke="#000" stroke-width="1.2"/>
<line x1="180.35" y1="206.50" x2="180.35" y2="215.70" stroke="#000" stroke-width="1.2"/>
<line x1="177.55" y1="206.50" x2="183.15" y2="206.50" stroke="#000" stroke-width="1.2"/>
<rect x="175.10" y="215.70" width="10.50" height="46.90" fill="#fff" stroke="#000" stroke-width="1.2"/>
<polygon points="180.35,200.30 181.09,201.58 182.54,201.89 181.55,202.99 181.70,204.46 180.35,203.86 179.00,204.46 179.15,202.99 178.16,201.89 179.61,201.58" fill="#000"/>
<line x1="191.05" y1="207.40" x2="191.05" y2="217.80" stroke="#000" stroke-width="1.2"/>
<line x1="188.25" y1="207.40" x2="193.85" y2="207.40" stroke="#000" stroke-width="1.2"/>
<rect x="185.60" y="217.80" width="10.90" height="44.80" fill="#000" stroke="#000" stroke-width="1.2"/>
<polygon points="191.05,200.30 191.79,201.58 193.24,201.89 192.25,202.99 192.40,204.46 191.05,203.86 189.70,204.46 189.85,202.99 188.86,201.89 190.31,201.58" fill="#000"/>
<line x1="223.45" y1="253.80" x2="223.45" y2="256.00" stroke="#000" stroke-width="1.2"/>
<line x1="220.65" y1="253.80" x2="226.25" y2="253.80" stroke="#000" stroke-width="1.2"/>
<rect x="218.30" y="256.00" width="10.30" height="6.60" fill="#a0a0a0" stroke="#000" stroke-width="1.2"/>
<line x1="234.05" y1="175.30" x2="234.05" y2="188.80" stroke="#000" stroke-width="1.2"/>
<line x1="231.25" y1="175.30" x2="236.85" y2="175.30" stroke="#000" stroke-width="1.2"/>
<rect x="228.60" y="188.80" width="10.90" height="73.80" fill="#fff" stroke="#000" stroke-width="1.2"/>
<polygon points="234.05,169.00 234.79,170.28 236.24,170.59 235.25,171.69 235.40,173.16 234.05,172.56 232.70,173.16 232.85,171.69 231.86,170.59 233.31,170.28" fill="#000"/>
<line x1="245.15" y1="200.40" x2="245.15" y2="209.80" stroke="#000" stroke-width="1.2"/>
<line x1="242.35" y1="200.40" x2="247.95" y2="200.40" stroke="#000" stroke-width="1.2"/>
<rect x="239.50" y="209.80" width="11.30" height="52.80" fill="#000" stroke="#000" stroke-width="1.2"/>
<text x="245.15" y="190.56" font-size="6" text-anchor="middle" font-weight="bold" fill="#000" stroke="#000" stroke-width="0.2" font-style="italic">#</text>
<polygon points="245.15,193.70 245.89,194.98 247.34,195.29 246.35,196.39 246.50,197.86 245.15,197.26 243.80,197.86 243.95,196.39 242.96,195.29 244.41,194.98" fill="#000"/>
<g transform="translate(180.10,272.6) scale(1,1.12)">
<text x="0.00" y="0.00" font-size="7.9" text-anchor="middle" font-weight="bold" fill="#000" stroke="#000" stroke-width="0.22">Gut</text>
</g>
<g transform="translate(236.60,272.6) scale(1,1.12)">
<text x="0.00" y="0.00" font-size="7.9" text-anchor="middle" font-weight="bold" fill="#000" stroke="#000" stroke-width="0.22">Liver</text>
</g>
<text x="144.20" y="213.55" font-size="7.0" text-anchor="middle" font-weight="bold" fill="#000" stroke="#000" stroke-width="0.22" transform="rotate(-90 144.20 213.55)" textLength="66.3" lengthAdjust="spacingAndGlyphs">CD4<tspan font-size="4.3" dy="-2.5">+</tspan><tspan dy="2.5"> cells (x 10</tspan><tspan font-size="4.3" dy="-2.5">4</tspan><tspan dy="2.5">)</tspan></text>
<line x1="31.30" y1="277.50" x2="256.00" y2="277.50" stroke="#000" stroke-width="1.3"/>
<text x="143.80" y="288.60" font-size="7.2" text-anchor="middle" font-weight="bold" fill="#000" stroke="#000" stroke-width="0.22">8 days after transplant</text>
<text x="270.90" y="159.00" font-size="14" text-anchor="middle" font-weight="normal" fill="#000" stroke="#000" stroke-width="0.5">D</text>
<line x1="294.80" y1="165.00" x2="294.80" y2="263.10" stroke="#000" stroke-width="1.3"/>
<line x1="294.30" y1="262.60" x2="388.00" y2="262.60" stroke="#000" stroke-width="1.3"/>
<line x1="291.80" y1="262.60" x2="294.80" y2="262.60" stroke="#000" stroke-width="1.2"/>
<text x="291.00" y="265.08" font-size="6.9" text-anchor="end" font-weight="bold" fill="#000" stroke="#000" stroke-width="0.22">0</text>
<line x1="291.80" y1="243.18" x2="294.80" y2="243.18" stroke="#000" stroke-width="1.2"/>
<text x="291.00" y="245.66" font-size="6.9" text-anchor="end" font-weight="bold" fill="#000" stroke="#000" stroke-width="0.22">5</text>
<line x1="291.80" y1="223.76" x2="294.80" y2="223.76" stroke="#000" stroke-width="1.2"/>
<text x="291.00" y="226.24" font-size="6.9" text-anchor="end" font-weight="bold" fill="#000" stroke="#000" stroke-width="0.22">10</text>
<line x1="291.80" y1="204.34" x2="294.80" y2="204.34" stroke="#000" stroke-width="1.2"/>
<text x="291.00" y="206.82" font-size="6.9" text-anchor="end" font-weight="bold" fill="#000" stroke="#000" stroke-width="0.22">15</text>
<line x1="291.80" y1="184.92" x2="294.80" y2="184.92" stroke="#000" stroke-width="1.2"/>
<text x="291.00" y="187.40" font-size="6.9" text-anchor="end" font-weight="bold" fill="#000" stroke="#000" stroke-width="0.22">20</text>
<line x1="291.80" y1="165.50" x2="294.80" y2="165.50" stroke="#000" stroke-width="1.2"/>
<text x="291.00" y="167.98" font-size="6.9" text-anchor="end" font-weight="bold" fill="#000" stroke="#000" stroke-width="0.22">25</text>
<line x1="305.15" y1="254.30" x2="305.15" y2="256.00" stroke="#000" stroke-width="1.2"/>
<line x1="302.35" y1="254.30" x2="307.95" y2="254.30" stroke="#000" stroke-width="1.2"/>
<rect x="299.80" y="256.00" width="10.70" height="6.60" fill="#a0a0a0" stroke="#000" stroke-width="1.2"/>
<line x1="315.75" y1="247.30" x2="315.75" y2="251.70" stroke="#000" stroke-width="1.2"/>
<line x1="312.95" y1="247.30" x2="318.55" y2="247.30" stroke="#000" stroke-width="1.2"/>
<rect x="310.50" y="251.70" width="10.50" height="10.90" fill="#fff" stroke="#000" stroke-width="1.2"/>
<polygon points="315.75,241.30 316.49,242.58 317.94,242.89 316.95,243.99 317.10,245.46 315.75,244.86 314.40,245.46 314.55,243.99 313.56,242.89 315.01,242.58" fill="#000"/>
<line x1="326.80" y1="258.20" x2="326.80" y2="259.30" stroke="#000" stroke-width="1.2"/>
<line x1="324.00" y1="258.20" x2="329.60" y2="258.20" stroke="#000" stroke-width="1.2"/>
<rect x="321.00" y="259.30" width="11.60" height="3.30" fill="#000" stroke="#000" stroke-width="1.2"/>
<polygon points="326.80,252.20 327.54,253.48 328.99,253.79 328.00,254.89 328.15,256.36 326.80,255.76 325.45,256.36 325.60,254.89 324.61,253.79 326.06,253.48" fill="#000"/>
<line x1="359.60" y1="240.30" x2="359.60" y2="244.20" stroke="#000" stroke-width="1.2"/>
<line x1="356.80" y1="240.30" x2="362.40" y2="240.30" stroke="#000" stroke-width="1.2"/>
<rect x="354.50" y="244.20" width="10.20" height="18.40" fill="#a0a0a0" stroke="#000" stroke-width="1.2"/>
<line x1="370.15" y1="175.90" x2="370.15" y2="189.50" stroke="#000" stroke-width="1.2"/>
<line x1="367.35" y1="175.90" x2="372.95" y2="175.90" stroke="#000" stroke-width="1.2"/>
<rect x="364.70" y="189.50" width="10.90" height="73.10" fill="#fff" stroke="#000" stroke-width="1.2"/>
<polygon points="370.15,169.70 370.89,170.98 372.34,171.29 371.35,172.39 371.50,173.86 370.15,173.26 368.80,173.86 368.95,172.39 367.96,171.29 369.41,170.98" fill="#000"/>
<line x1="381.15" y1="221.50" x2="381.15" y2="232.40" stroke="#000" stroke-width="1.2"/>
<line x1="378.35" y1="221.50" x2="383.95" y2="221.50" stroke="#000" stroke-width="1.2"/>
<rect x="375.60" y="232.40" width="11.10" height="30.20" fill="#000" stroke="#000" stroke-width="1.2"/>
<text x="381.15" y="212.76" font-size="6" text-anchor="middle" font-weight="bold" fill="#000" stroke="#000" stroke-width="0.2" font-style="italic">#</text>
<polygon points="381.15,214.90 381.89,216.18 383.34,216.49 382.35,217.59 382.50,219.06 381.15,218.46 379.80,219.06 379.95,217.59 378.96,216.49 380.41,216.18" fill="#000"/>
<g transform="translate(315.60,272.6) scale(1,1.12)">
<text x="0.00" y="0.00" font-size="7.9" text-anchor="middle" font-weight="bold" fill="#000" stroke="#000" stroke-width="0.22">Gut</text>
</g>
<g transform="translate(371.20,272.6) scale(1,1.12)">
<text x="0.00" y="0.00" font-size="7.9" text-anchor="middle" font-weight="bold" fill="#000" stroke="#000" stroke-width="0.22">Liver</text>
</g>
<text x="280.20" y="213.60" font-size="7.0" text-anchor="middle" font-weight="bold" fill="#000" stroke="#000" stroke-width="0.22" transform="rotate(-90 280.20 213.60)" textLength="66.4" lengthAdjust="spacingAndGlyphs">CD8<tspan font-size="4.3" dy="-2.5">+</tspan><tspan dy="2.5"> cells (x 10</tspan><tspan font-size="4.3" dy="-2.5">4</tspan><tspan dy="2.5">)</tspan></text>
<line x1="417.60" y1="165.00" x2="417.60" y2="262.60" stroke="#000" stroke-width="1.3"/>
<line x1="417.10" y1="262.10" x2="511.00" y2="262.10" stroke="#000" stroke-width="1.3"/>
<line x1="414.60" y1="262.10" x2="417.60" y2="262.10" stroke="#000" stroke-width="1.2"/>
<text x="413.80" y="264.58" font-size="6.9" text-anchor="end" font-weight="bold" fill="#000" stroke="#000" stroke-width="0.22">0</text>
<line x1="414.60" y1="246.00" x2="417.60" y2="246.00" stroke="#000" stroke-width="1.2"/>
<text x="413.80" y="248.48" font-size="6.9" text-anchor="end" font-weight="bold" fill="#000" stroke="#000" stroke-width="0.22">5</text>
<line x1="414.60" y1="229.90" x2="417.60" y2="229.90" stroke="#000" stroke-width="1.2"/>
<text x="413.80" y="232.38" font-size="6.9" text-anchor="end" font-weight="bold" fill="#000" stroke="#000" stroke-width="0.22">10</text>
<line x1="414.60" y1="213.80" x2="417.60" y2="213.80" stroke="#000" stroke-width="1.2"/>
<text x="413.80" y="216.28" font-size="6.9" text-anchor="end" font-weight="bold" fill="#000" stroke="#000" stroke-width="0.22">15</text>
<line x1="414.60" y1="197.70" x2="417.60" y2="197.70" stroke="#000" stroke-width="1.2"/>
<text x="413.80" y="200.18" font-size="6.9" text-anchor="end" font-weight="bold" fill="#000" stroke="#000" stroke-width="0.22">20</text>
<line x1="414.60" y1="181.60" x2="417.60" y2="181.60" stroke="#000" stroke-width="1.2"/>
<text x="413.80" y="184.08" font-size="6.9" text-anchor="end" font-weight="bold" fill="#000" stroke="#000" stroke-width="0.22">25</text>
<line x1="414.60" y1="165.50" x2="417.60" y2="165.50" stroke="#000" stroke-width="1.2"/>
<text x="413.80" y="167.98" font-size="6.9" text-anchor="end" font-weight="bold" fill="#000" stroke="#000" stroke-width="0.22">30</text>
<rect x="422.70" y="258.90" width="10.90" height="3.20" fill="#a0a0a0" stroke="#000" stroke-width="1.2"/>
<line x1="439.05" y1="252.30" x2="439.05" y2="256.00" stroke="#000" stroke-width="1.2"/>
<line x1="436.25" y1="252.30" x2="441.85" y2="252.30" stroke="#000" stroke-width="1.2"/>
<rect x="433.60" y="256.00" width="10.90" height="6.10" fill="#fff" stroke="#000" stroke-width="1.2"/>
<polygon points="439.05,246.10 439.79,247.38 441.24,247.69 440.25,248.79 440.40,250.26 439.05,249.66 437.70,250.26 437.85,248.79 436.86,247.69 438.31,247.38" fill="#000"/>
<rect x="444.50" y="259.70" width="11.30" height="2.40" fill="#000" stroke="#000" stroke-width="1.2"/>
<line x1="482.05" y1="247.70" x2="482.05" y2="250.60" stroke="#000" stroke-width="1.2"/>
<line x1="479.25" y1="247.70" x2="484.85" y2="247.70" stroke="#000" stroke-width="1.2"/>
<rect x="476.60" y="250.60" width="10.90" height="11.50" fill="#a0a0a0" stroke="#000" stroke-width="1.2"/>
<line x1="492.95" y1="175.70" x2="492.95" y2="191.60" stroke="#000" stroke-width="1.2"/>
<line x1="490.15" y1="175.70" x2="495.75" y2="175.70" stroke="#000" stroke-width="1.2"/>
<rect x="487.50" y="191.60" width="10.90" height="70.50" fill="#fff" stroke="#000" stroke-width="1.2"/>
<polygon points="492.95,168.60 493.69,169.88 495.14,170.19 494.15,171.29 494.30,172.76 492.95,172.16 491.60,172.76 491.75,171.29 490.76,170.19 492.21,169.88" fill="#000"/>
<line x1="504.20" y1="222.60" x2="504.20" y2="232.50" stroke="#000" stroke-width="1.2"/>
<line x1="501.40" y1="222.60" x2="507.00" y2="222.60" stroke="#000" stroke-width="1.2"/>
<rect x="498.40" y="232.50" width="11.60" height="29.60" fill="#000" stroke="#000" stroke-width="1.2"/>
<text x="504.20" y="212.76" font-size="6" text-anchor="middle" font-weight="bold" fill="#000" stroke="#000" stroke-width="0.2" font-style="italic">#</text>
<polygon points="504.20,215.50 504.94,216.78 506.39,217.09 505.40,218.19 505.55,219.66 504.20,219.06 502.85,219.66 503.00,218.19 502.01,217.09 503.46,216.78" fill="#000"/>
<g transform="translate(438.40,272.6) scale(1,1.12)">
<text x="0.00" y="0.00" font-size="7.9" text-anchor="middle" font-weight="bold" fill="#000" stroke="#000" stroke-width="0.22">Gut</text>
</g>
<g transform="translate(496.20,272.6) scale(1,1.12)">
<text x="0.00" y="0.00" font-size="7.9" text-anchor="middle" font-weight="bold" fill="#000" stroke="#000" stroke-width="0.22">Liver</text>
</g>
<text x="402.80" y="212.90" font-size="7.0" text-anchor="middle" font-weight="bold" fill="#000" stroke="#000" stroke-width="0.22" transform="rotate(-90 402.80 212.90)" textLength="66.2" lengthAdjust="spacingAndGlyphs">CD4<tspan font-size="4.3" dy="-2.5">+</tspan><tspan dy="2.5"> cells (x 10</tspan><tspan font-size="4.3" dy="-2.5">4</tspan><tspan dy="2.5">)</tspan></text>
<line x1="292.00" y1="277.50" x2="516.50" y2="277.50" stroke="#000" stroke-width="1.3"/>
<text x="402.80" y="288.60" font-size="7.2" text-anchor="middle" font-weight="bold" fill="#000" stroke="#000" stroke-width="0.22">16 days after transplant</text>
<text x="9.80" y="303.00" font-size="14" text-anchor="middle" font-weight="normal" fill="#000" stroke="#000" stroke-width="0.5">E</text>
<line x1="41.20" y1="311.50" x2="41.20" y2="394.40" stroke="#000" stroke-width="1.3"/>
<line x1="40.70" y1="393.90" x2="164.50" y2="393.90" stroke="#000" stroke-width="1.3"/>
<line x1="38.20" y1="382.22" x2="41.20" y2="382.22" stroke="#000" stroke-width="1.2"/>
<text x="37.40" y="384.78" font-size="7.1" text-anchor="end" font-weight="bold" fill="#000" stroke="#000" stroke-width="0.22">100</text>
<line x1="38.20" y1="370.54" x2="41.20" y2="370.54" stroke="#000" stroke-width="1.2"/>
<text x="37.40" y="373.10" font-size="7.1" text-anchor="end" font-weight="bold" fill="#000" stroke="#000" stroke-width="0.22">200</text>
<line x1="38.20" y1="358.86" x2="41.20" y2="358.86" stroke="#000" stroke-width="1.2"/>
<text x="37.40" y="361.42" font-size="7.1" text-anchor="end" font-weight="bold" fill="#000" stroke="#000" stroke-width="0.22">300</text>
<line x1="38.20" y1="347.18" x2="41.20" y2="347.18" stroke="#000" stroke-width="1.2"/>
<text x="37.40" y="349.74" font-size="7.1" text-anchor="end" font-weight="bold" fill="#000" stroke="#000" stroke-width="0.22">400</text>
<line x1="38.20" y1="335.50" x2="41.20" y2="335.50" stroke="#000" stroke-width="1.2"/>
<text x="37.40" y="338.06" font-size="7.1" text-anchor="end" font-weight="bold" fill="#000" stroke="#000" stroke-width="0.22">500</text>
<line x1="38.20" y1="323.82" x2="41.20" y2="323.82" stroke="#000" stroke-width="1.2"/>
<text x="37.40" y="326.38" font-size="7.1" text-anchor="end" font-weight="bold" fill="#000" stroke="#000" stroke-width="0.22">600</text>
<line x1="38.20" y1="312.14" x2="41.20" y2="312.14" stroke="#000" stroke-width="1.2"/>
<text x="37.40" y="314.70" font-size="7.1" text-anchor="end" font-weight="bold" fill="#000" stroke="#000" stroke-width="0.22">700</text>
<line x1="41.20" y1="393.90" x2="41.20" y2="396.70" stroke="#000" stroke-width="1.2"/>
<text x="41.20" y="404.80" font-size="7.1" text-anchor="middle" font-weight="bold" fill="#000" stroke="#000" stroke-width="0.22">0</text>
<line x1="71.76" y1="393.90" x2="71.76" y2="396.70" stroke="#000" stroke-width="1.2"/>
<text x="71.76" y="404.80" font-size="7.1" text-anchor="middle" font-weight="bold" fill="#000" stroke="#000" stroke-width="0.22">4</text>
<line x1="102.32" y1="393.90" x2="102.32" y2="396.70" stroke="#000" stroke-width="1.2"/>
<text x="102.32" y="404.80" font-size="7.1" text-anchor="middle" font-weight="bold" fill="#000" stroke="#000" stroke-width="0.22">8</text>
<line x1="132.88" y1="393.90" x2="132.88" y2="396.70" stroke="#000" stroke-width="1.2"/>
<text x="132.88" y="404.80" font-size="7.1" text-anchor="middle" font-weight="bold" fill="#000" stroke="#000" stroke-width="0.22">12</text>
<line x1="163.44" y1="393.90" x2="163.44" y2="396.70" stroke="#000" stroke-width="1.2"/>
<text x="163.44" y="404.80" font-size="7.1" text-anchor="middle" font-weight="bold" fill="#000" stroke="#000" stroke-width="0.22">16</text>
<text x="102.20" y="416.00" font-size="8.2" text-anchor="middle" font-weight="bold" fill="#000" stroke="#000" stroke-width="0.22">Days after transplant</text>
<text x="20.90" y="353.00" font-size="7.9" text-anchor="middle" font-weight="bold" fill="#000" stroke="#000" stroke-width="0.22" transform="rotate(-90 20.90 353.00)" textLength="90.4" lengthAdjust="spacingAndGlyphs">IFN-<tspan font-family="Liberation Serif" font-style="italic" font-weight="normal">γ</tspan> pg/100μL - Serum</text>
<polyline points="41.20,393.70 102.32,384.30 163.44,392.90" fill="none" stroke="#000" stroke-width="1.3" stroke-linejoin="miter"/>
<polyline points="41.20,393.70 102.32,369.50 163.44,384.00" fill="none" stroke="#000" stroke-width="1.3" stroke-linejoin="miter"/>
<polyline points="41.20,393.70 102.32,329.10 163.44,364.60" fill="none" stroke="#000" stroke-width="1.3" stroke-linejoin="miter"/>
<line x1="102.32" y1="378.10" x2="102.32" y2="390.20" stroke="#000" stroke-width="1.2"/>
<line x1="99.72" y1="378.10" x2="104.92" y2="378.10" stroke="#000" stroke-width="1.2"/>
<line x1="99.72" y1="390.20" x2="104.92" y2="390.20" stroke="#000" stroke-width="1.2"/>
<line x1="102.32" y1="363.30" x2="102.32" y2="376.70" stroke="#000" stroke-width="1.2"/>
<line x1="99.72" y1="363.30" x2="104.92" y2="363.30" stroke="#000" stroke-width="1.2"/>
<line x1="99.72" y1="376.70" x2="104.92" y2="376.70" stroke="#000" stroke-width="1.2"/>
<line x1="163.44" y1="382.00" x2="163.44" y2="387.50" stroke="#000" stroke-width="1.2"/>
<line x1="160.84" y1="382.00" x2="166.04" y2="382.00" stroke="#000" stroke-width="1.2"/>
<line x1="160.84" y1="387.50" x2="166.04" y2="387.50" stroke="#000" stroke-width="1.2"/>
<line x1="102.32" y1="312.90" x2="102.32" y2="345.00" stroke="#000" stroke-width="1.2"/>
<line x1="99.72" y1="312.90" x2="104.92" y2="312.90" stroke="#000" stroke-width="1.2"/>
<line x1="99.72" y1="345.00" x2="104.92" y2="345.00" stroke="#000" stroke-width="1.2"/>
<polygon points="39.00,392.05 43.40,392.05 41.20,395.90" fill="#000"/>
<polygon points="100.12,382.65 104.52,382.65 102.32,386.50" fill="#000"/>
<polygon points="161.24,391.25 165.64,391.25 163.44,395.10" fill="#000"/>
<rect x="39.00" y="391.50" width="4.40" height="4.40" fill="#000"/>
<rect x="100.12" y="367.30" width="4.40" height="4.40" fill="#000"/>
<rect x="161.24" y="381.80" width="4.40" height="4.40" fill="#000"/>
<rect x="39.60" y="392.10" width="3.20" height="3.20" fill="#fff" stroke="#000" stroke-width="1.2"/>
<rect x="100.72" y="327.50" width="3.20" height="3.20" fill="#fff" stroke="#000" stroke-width="1.2"/>
<rect x="161.84" y="363.00" width="3.20" height="3.20" fill="#fff" stroke="#000" stroke-width="1.2"/>
<polygon points="102.32,305.70 103.10,307.03 104.60,307.36 103.58,308.51 103.73,310.04 102.32,309.42 100.91,310.04 101.06,308.51 100.04,307.36 101.54,307.03" fill="#000"/>
<polygon points="163.44,354.10 164.22,355.43 165.72,355.76 164.70,356.91 164.85,358.44 163.44,357.82 162.03,358.44 162.18,356.91 161.16,355.76 162.66,355.43" fill="#000"/>
<polygon points="99.60,354.10 100.38,355.43 101.88,355.76 100.86,356.91 101.01,358.44 99.60,357.82 98.19,358.44 98.34,356.91 97.32,355.76 98.82,355.43" fill="#000"/>
<text x="106.40" y="358.66" font-size="6" text-anchor="middle" font-weight="bold" fill="#000" stroke="#000" stroke-width="0.2" font-style="italic">#</text>
<polygon points="160.20,373.50 160.98,374.83 162.48,375.16 161.46,376.31 161.61,377.84 160.20,377.22 158.79,377.84 158.94,376.31 157.92,375.16 159.42,374.83" fill="#000"/>
<text x="166.90" y="378.06" font-size="6" text-anchor="middle" font-weight="bold" fill="#000" stroke="#000" stroke-width="0.2" font-style="italic">#</text>
<line x1="215.80" y1="312.20" x2="215.80" y2="394.20" stroke="#000" stroke-width="1.3"/>
<line x1="215.30" y1="393.70" x2="339.50" y2="393.70" stroke="#000" stroke-width="1.3"/>
<line x1="212.80" y1="373.57" x2="215.80" y2="373.57" stroke="#000" stroke-width="1.2"/>
<text x="212.00" y="376.13" font-size="7.1" text-anchor="end" font-weight="bold" fill="#000" stroke="#000" stroke-width="0.22">50</text>
<line x1="212.80" y1="353.45" x2="215.80" y2="353.45" stroke="#000" stroke-width="1.2"/>
<text x="212.00" y="356.01" font-size="7.1" text-anchor="end" font-weight="bold" fill="#000" stroke="#000" stroke-width="0.22">100</text>
<line x1="212.80" y1="333.32" x2="215.80" y2="333.32" stroke="#000" stroke-width="1.2"/>
<text x="212.00" y="335.88" font-size="7.1" text-anchor="end" font-weight="bold" fill="#000" stroke="#000" stroke-width="0.22">150</text>
<line x1="212.80" y1="313.20" x2="215.80" y2="313.20" stroke="#000" stroke-width="1.2"/>
<text x="212.00" y="315.76" font-size="7.1" text-anchor="end" font-weight="bold" fill="#000" stroke="#000" stroke-width="0.22">200</text>
<line x1="216.10" y1="393.70" x2="216.10" y2="396.50" stroke="#000" stroke-width="1.2"/>
<text x="216.10" y="404.60" font-size="7.1" text-anchor="middle" font-weight="bold" fill="#000" stroke="#000" stroke-width="0.22">0</text>
<line x1="246.74" y1="393.70" x2="246.74" y2="396.50" stroke="#000" stroke-width="1.2"/>
<text x="246.74" y="404.60" font-size="7.1" text-anchor="middle" font-weight="bold" fill="#000" stroke="#000" stroke-width="0.22">4</text>
<line x1="277.38" y1="393.70" x2="277.38" y2="396.50" stroke="#000" stroke-width="1.2"/>
<text x="277.38" y="404.60" font-size="7.1" text-anchor="middle" font-weight="bold" fill="#000" stroke="#000" stroke-width="0.22">8</text>
<line x1="308.02" y1="393.70" x2="308.02" y2="396.50" stroke="#000" stroke-width="1.2"/>
<text x="308.02" y="404.60" font-size="7.1" text-anchor="middle" font-weight="bold" fill="#000" stroke="#000" stroke-width="0.22">12</text>
<line x1="338.66" y1="393.70" x2="338.66" y2="396.50" stroke="#000" stroke-width="1.2"/>
<text x="338.66" y="404.60" font-size="7.1" text-anchor="middle" font-weight="bold" fill="#000" stroke="#000" stroke-width="0.22">16</text>
<text x="277.70" y="416.60" font-size="8.2" text-anchor="middle" font-weight="bold" fill="#000" stroke="#000" stroke-width="0.22">Days after transplant</text>
<text x="195.80" y="354.25" font-size="7.9" text-anchor="middle" font-weight="bold" fill="#000" stroke="#000" stroke-width="0.22" transform="rotate(-90 195.80 354.25)" textLength="85.9" lengthAdjust="spacingAndGlyphs">IFN-<tspan font-family="Liberation Serif" font-style="italic" font-weight="normal">γ</tspan> pg/100mg - Liver</text>
<polyline points="216.10,393.70 277.38,388.90 338.66,388.90" fill="none" stroke="#000" stroke-width="1.3" stroke-linejoin="miter"/>
<polyline points="216.10,393.70 277.38,350.40 338.66,384.80" fill="none" stroke="#000" stroke-width="1.3" stroke-linejoin="miter"/>
<polyline points="216.10,393.70 277.38,326.10 338.66,377.30" fill="none" stroke="#000" stroke-width="1.3" stroke-linejoin="miter"/>
<line x1="277.38" y1="337.70" x2="277.38" y2="363.30" stroke="#000" stroke-width="1.2"/>
<line x1="274.78" y1="337.70" x2="279.98" y2="337.70" stroke="#000" stroke-width="1.2"/>
<line x1="274.78" y1="363.30" x2="279.98" y2="363.30" stroke="#000" stroke-width="1.2"/>
<line x1="338.66" y1="382.20" x2="338.66" y2="387.50" stroke="#000" stroke-width="1.2"/>
<line x1="336.06" y1="382.20" x2="341.26" y2="382.20" stroke="#000" stroke-width="1.2"/>
<line x1="336.06" y1="387.50" x2="341.26" y2="387.50" stroke="#000" stroke-width="1.2"/>
<line x1="277.38" y1="319.40" x2="277.38" y2="332.80" stroke="#000" stroke-width="1.2"/>
<line x1="274.78" y1="319.40" x2="279.98" y2="319.40" stroke="#000" stroke-width="1.2"/>
<line x1="274.78" y1="332.80" x2="279.98" y2="332.80" stroke="#000" stroke-width="1.2"/>
<polygon points="213.90,392.05 218.30,392.05 216.10,395.90" fill="#000"/>
<polygon points="275.18,387.25 279.58,387.25 277.38,391.10" fill="#000"/>
<polygon points="336.46,387.25 340.86,387.25 338.66,391.10" fill="#000"/>
<rect x="213.90" y="391.50" width="4.40" height="4.40" fill="#000"/>
<rect x="275.18" y="348.20" width="4.40" height="4.40" fill="#000"/>
<rect x="336.46" y="382.60" width="4.40" height="4.40" fill="#000"/>
<rect x="214.50" y="392.10" width="3.20" height="3.20" fill="#fff" stroke="#000" stroke-width="1.2"/>
<rect x="275.78" y="324.50" width="3.20" height="3.20" fill="#fff" stroke="#000" stroke-width="1.2"/>
<rect x="337.06" y="375.70" width="3.20" height="3.20" fill="#fff" stroke="#000" stroke-width="1.2"/>
<polygon points="277.38,312.90 278.16,314.23 279.66,314.56 278.64,315.71 278.79,317.24 277.38,316.62 275.97,317.24 276.12,315.71 275.10,314.56 276.60,314.23" fill="#000"/>
<polygon points="338.66,369.00 339.44,370.33 340.94,370.66 339.92,371.81 340.07,373.34 338.66,372.72 337.25,373.34 337.40,371.81 336.38,370.66 337.88,370.33" fill="#000"/>
<polygon points="274.20,341.50 274.98,342.83 276.48,343.16 275.46,344.31 275.61,345.84 274.20,345.22 272.79,345.84 272.94,344.31 271.92,343.16 273.42,342.83" fill="#000"/>
<text x="282.30" y="346.06" font-size="6" text-anchor="middle" font-weight="bold" fill="#000" stroke="#000" stroke-width="0.2" font-style="italic">#</text>
<line x1="387.10" y1="312.40" x2="387.10" y2="347.70" stroke="#000" stroke-width="1.3"/>
<line x1="387.10" y1="353.80" x2="387.10" y2="394.30" stroke="#000" stroke-width="1.3"/>
<line x1="384.40" y1="347.70" x2="387.60" y2="347.70" stroke="#000" stroke-width="1.3"/>
<line x1="384.40" y1="353.80" x2="387.60" y2="353.80" stroke="#000" stroke-width="1.3"/>
<line x1="386.60" y1="393.80" x2="509.50" y2="393.80" stroke="#000" stroke-width="1.3"/>
<line x1="384.10" y1="312.90" x2="387.10" y2="312.90" stroke="#000" stroke-width="1.2"/>
<text x="383.30" y="315.46" font-size="7.1" text-anchor="end" font-weight="bold" fill="#000" stroke="#000" stroke-width="0.22">250</text>
<line x1="384.10" y1="329.50" x2="387.10" y2="329.50" stroke="#000" stroke-width="1.2"/>
<text x="383.30" y="332.06" font-size="7.1" text-anchor="end" font-weight="bold" fill="#000" stroke="#000" stroke-width="0.22">150</text>
<line x1="384.10" y1="346.20" x2="387.10" y2="346.20" stroke="#000" stroke-width="1.2"/>
<text x="383.30" y="348.76" font-size="7.1" text-anchor="end" font-weight="bold" fill="#000" stroke="#000" stroke-width="0.22">50</text>
<line x1="384.10" y1="361.50" x2="387.10" y2="361.50" stroke="#000" stroke-width="1.2"/>
<text x="383.30" y="364.06" font-size="7.1" text-anchor="end" font-weight="bold" fill="#000" stroke="#000" stroke-width="0.22">20</text>
<line x1="384.10" y1="377.80" x2="387.10" y2="377.80" stroke="#000" stroke-width="1.2"/>
<text x="383.30" y="380.36" font-size="7.1" text-anchor="end" font-weight="bold" fill="#000" stroke="#000" stroke-width="0.22">10</text>
<line x1="387.10" y1="393.80" x2="387.10" y2="396.60" stroke="#000" stroke-width="1.2"/>
<text x="387.10" y="404.70" font-size="7.1" text-anchor="middle" font-weight="bold" fill="#000" stroke="#000" stroke-width="0.22">0</text>
<line x1="417.50" y1="393.80" x2="417.50" y2="396.60" stroke="#000" stroke-width="1.2"/>
<text x="417.50" y="404.70" font-size="7.1" text-anchor="middle" font-weight="bold" fill="#000" stroke="#000" stroke-width="0.22">4</text>
<line x1="447.90" y1="393.80" x2="447.90" y2="396.60" stroke="#000" stroke-width="1.2"/>
<text x="447.90" y="404.70" font-size="7.1" text-anchor="middle" font-weight="bold" fill="#000" stroke="#000" stroke-width="0.22">8</text>
<line x1="478.30" y1="393.80" x2="478.30" y2="396.60" stroke="#000" stroke-width="1.2"/>
<text x="478.30" y="404.70" font-size="7.1" text-anchor="middle" font-weight="bold" fill="#000" stroke="#000" stroke-width="0.22">12</text>
<line x1="508.70" y1="393.80" x2="508.70" y2="396.60" stroke="#000" stroke-width="1.2"/>
<text x="508.70" y="404.70" font-size="7.1" text-anchor="middle" font-weight="bold" fill="#000" stroke="#000" stroke-width="0.22">16</text>
<text x="447.70" y="417.00" font-size="8.2" text-anchor="middle" font-weight="bold" fill="#000" stroke="#000" stroke-width="0.22">Days after transplant</text>
<text x="367.00" y="352.35" font-size="8.2" text-anchor="middle" font-weight="bold" fill="#000" stroke="#000" stroke-width="0.22" transform="rotate(-90 367.00 352.35)" textLength="85.9" lengthAdjust="spacingAndGlyphs">IFN-<tspan font-family="Liberation Serif" font-style="italic" font-weight="normal">γ</tspan> pg/100mg - Gut</text>
<line x1="387.10" y1="393.80" x2="419.34" y2="353.50" stroke="#000" stroke-width="1.3"/>
<line x1="424.94" y1="346.50" x2="447.90" y2="317.80" stroke="#000" stroke-width="1.3"/>
<line x1="447.90" y1="317.80" x2="476.23" y2="346.50" stroke="#000" stroke-width="1.3"/>
<line x1="483.14" y1="353.50" x2="508.70" y2="379.40" stroke="#000" stroke-width="1.3"/>
<polyline points="387.10,393.80 447.90,361.50 508.70,389.80" fill="none" stroke="#000" stroke-width="1.3" stroke-linejoin="miter"/>
<polyline points="387.10,393.80 447.90,382.50 508.70,391.40" fill="none" stroke="#000" stroke-width="1.3" stroke-linejoin="miter"/>
<polygon points="384.90,392.15 389.30,392.15 387.10,396.00" fill="#000"/>
<polygon points="445.70,380.85 450.10,380.85 447.90,384.70" fill="#000"/>
<polygon points="506.50,389.75 510.90,389.75 508.70,393.60" fill="#000"/>
<rect x="384.90" y="391.60" width="4.40" height="4.40" fill="#000"/>
<rect x="445.70" y="359.30" width="4.40" height="4.40" fill="#000"/>
<rect x="506.50" y="387.60" width="4.40" height="4.40" fill="#000"/>
<rect x="446.30" y="316.20" width="3.20" height="3.20" fill="#fff" stroke="#000" stroke-width="1.2"/>
<rect x="507.10" y="377.80" width="3.20" height="3.20" fill="#fff" stroke="#000" stroke-width="1.2"/>
<polygon points="448.30,309.90 449.08,311.23 450.58,311.56 449.56,312.71 449.71,314.24 448.30,313.62 446.89,314.24 447.04,312.71 446.02,311.56 447.52,311.23" fill="#000"/>
<polygon points="509.20,369.30 509.98,370.63 511.48,370.96 510.46,372.11 510.61,373.64 509.20,373.02 507.79,373.64 507.94,372.11 506.92,370.96 508.42,370.63" fill="#000"/>
<polygon points="445.20,352.40 445.98,353.73 447.48,354.06 446.46,355.21 446.61,356.74 445.20,356.12 443.79,356.74 443.94,355.21 442.92,354.06 444.42,353.73" fill="#000"/>
<text x="451.70" y="356.96" font-size="6" text-anchor="middle" font-weight="bold" fill="#000" stroke="#000" stroke-width="0.2" font-style="italic">#</text>
<polygon points="505.50,381.30 506.28,382.63 507.78,382.96 506.76,384.11 506.91,385.64 505.50,385.02 504.09,385.64 504.24,384.11 503.22,382.96 504.72,382.63" fill="#000"/>
<text x="512.30" y="385.86" font-size="6" text-anchor="middle" font-weight="bold" fill="#000" stroke="#000" stroke-width="0.2" font-style="italic">#</text>
<text x="8.30" y="430.90" font-size="14" text-anchor="middle" font-weight="normal" fill="#000" stroke="#000" stroke-width="0.5">F</text>
<line x1="40.90" y1="440.30" x2="40.90" y2="522.90" stroke="#000" stroke-width="1.3"/>
<line x1="40.40" y1="522.40" x2="167.50" y2="522.40" stroke="#000" stroke-width="1.3"/>
<line x1="37.90" y1="495.25" x2="40.90" y2="495.25" stroke="#000" stroke-width="1.2"/>
<text x="37.10" y="497.81" font-size="7.1" text-anchor="end" font-weight="bold" fill="#000" stroke="#000" stroke-width="0.22">500</text>
<line x1="37.90" y1="468.10" x2="40.90" y2="468.10" stroke="#000" stroke-width="1.2"/>
<text x="37.10" y="470.66" font-size="7.1" text-anchor="end" font-weight="bold" fill="#000" stroke="#000" stroke-width="0.22">1000</text>
<line x1="37.90" y1="440.95" x2="40.90" y2="440.95" stroke="#000" stroke-width="1.2"/>
<text x="37.10" y="443.51" font-size="7.1" text-anchor="end" font-weight="bold" fill="#000" stroke="#000" stroke-width="0.22">1500</text>
<line x1="40.90" y1="522.40" x2="40.90" y2="525.20" stroke="#000" stroke-width="1.2"/>
<text x="40.90" y="533.30" font-size="7.1" text-anchor="middle" font-weight="bold" fill="#000" stroke="#000" stroke-width="0.22">0</text>
<line x1="72.26" y1="522.40" x2="72.26" y2="525.20" stroke="#000" stroke-width="1.2"/>
<text x="72.26" y="533.30" font-size="7.1" text-anchor="middle" font-weight="bold" fill="#000" stroke="#000" stroke-width="0.22">4</text>
<line x1="103.62" y1="522.40" x2="103.62" y2="525.20" stroke="#000" stroke-width="1.2"/>
<text x="103.62" y="533.30" font-size="7.1" text-anchor="middle" font-weight="bold" fill="#000" stroke="#000" stroke-width="0.22">8</text>
<line x1="134.98" y1="522.40" x2="134.98" y2="525.20" stroke="#000" stroke-width="1.2"/>
<text x="134.98" y="533.30" font-size="7.1" text-anchor="middle" font-weight="bold" fill="#000" stroke="#000" stroke-width="0.22">12</text>
<line x1="166.34" y1="522.40" x2="166.34" y2="525.20" stroke="#000" stroke-width="1.2"/>
<text x="166.34" y="533.30" font-size="7.1" text-anchor="middle" font-weight="bold" fill="#000" stroke="#000" stroke-width="0.22">16</text>
<text x="103.70" y="545.40" font-size="8.2" text-anchor="middle" font-weight="bold" fill="#000" stroke="#000" stroke-width="0.22">Days after transplant</text>
<text x="19.80" y="481.55" font-size="7.9" text-anchor="middle" font-weight="bold" fill="#000" stroke="#000" stroke-width="0.22" transform="rotate(-90 19.80 481.55)" textLength="89.7" lengthAdjust="spacingAndGlyphs">CCL2 pg/100μL - Serum</text>
<polyline points="40.90,521.50 103.62,508.10 166.34,510.80" fill="none" stroke="#000" stroke-width="1.3" stroke-linejoin="miter"/>
<polyline points="40.90,516.70 103.62,490.60 166.34,502.70" fill="none" stroke="#000" stroke-width="1.3" stroke-linejoin="miter"/>
<polyline points="40.90,514.80 103.62,477.90 166.34,464.50" fill="none" stroke="#000" stroke-width="1.3" stroke-linejoin="miter"/>
<line x1="103.62" y1="506.70" x2="103.62" y2="510.20" stroke="#000" stroke-width="1.2"/>
<line x1="101.02" y1="506.70" x2="106.22" y2="506.70" stroke="#000" stroke-width="1.2"/>
<line x1="101.02" y1="510.20" x2="106.22" y2="510.20" stroke="#000" stroke-width="1.2"/>
<line x1="103.62" y1="486.50" x2="103.62" y2="495.40" stroke="#000" stroke-width="1.2"/>
<line x1="101.02" y1="486.50" x2="106.22" y2="486.50" stroke="#000" stroke-width="1.2"/>
<line x1="101.02" y1="495.40" x2="106.22" y2="495.40" stroke="#000" stroke-width="1.2"/>
<line x1="103.62" y1="472.30" x2="103.62" y2="483.80" stroke="#000" stroke-width="1.2"/>
<line x1="101.02" y1="472.30" x2="106.22" y2="472.30" stroke="#000" stroke-width="1.2"/>
<line x1="101.02" y1="483.80" x2="106.22" y2="483.80" stroke="#000" stroke-width="1.2"/>
<line x1="166.34" y1="452.30" x2="166.34" y2="477.10" stroke="#000" stroke-width="1.2"/>
<line x1="163.74" y1="452.30" x2="168.94" y2="452.30" stroke="#000" stroke-width="1.2"/>
<line x1="163.74" y1="477.10" x2="168.94" y2="477.10" stroke="#000" stroke-width="1.2"/>
<polygon points="38.70,519.85 43.10,519.85 40.90,523.70" fill="#000"/>
<polygon points="101.42,506.45 105.82,506.45 103.62,510.30" fill="#000"/>
<polygon points="164.14,509.15 168.54,509.15 166.34,513.00" fill="#000"/>
<circle cx="40.90" cy="516.70" r="1.60" fill="#fff" stroke="#000" stroke-width="1.2"/>
<circle cx="103.62" cy="490.60" r="1.60" fill="#fff" stroke="#000" stroke-width="1.2"/>
<circle cx="166.34" cy="502.70" r="1.60" fill="#fff" stroke="#000" stroke-width="1.2"/>
<rect x="38.70" y="512.60" width="4.40" height="4.40" fill="#000"/>
<rect x="101.42" y="475.70" width="4.40" height="4.40" fill="#000"/>
<rect x="164.14" y="462.30" width="4.40" height="4.40" fill="#000"/>
<rect x="164.74" y="501.10" width="3.20" height="3.20" fill="#fff" stroke="#000" stroke-width="1.2"/>
<polygon points="104.50,461.80 105.28,463.13 106.78,463.46 105.76,464.61 105.91,466.14 104.50,465.52 103.09,466.14 103.24,464.61 102.22,463.46 103.72,463.13" fill="#000"/>
<polygon points="108.20,481.40 108.98,482.73 110.48,483.06 109.46,484.21 109.61,485.74 108.20,485.12 106.79,485.74 106.94,484.21 105.92,483.06 107.42,482.73" fill="#000"/>
<polygon points="163.70,439.70 164.48,441.03 165.98,441.36 164.96,442.51 165.11,444.04 163.70,443.42 162.29,444.04 162.44,442.51 161.42,441.36 162.92,441.03" fill="#000"/>
<text x="171.00" y="444.26" font-size="6" text-anchor="middle" font-weight="bold" fill="#000" stroke="#000" stroke-width="0.2" font-style="italic">#</text>
<text x="44.40" y="509.66" font-size="6" text-anchor="middle" font-weight="bold" fill="#000" stroke="#000" stroke-width="0.2" font-style="italic">#</text>
<line x1="215.80" y1="440.80" x2="215.80" y2="523.40" stroke="#000" stroke-width="1.3"/>
<line x1="215.30" y1="522.90" x2="339.50" y2="522.90" stroke="#000" stroke-width="1.3"/>
<line x1="212.80" y1="504.70" x2="215.80" y2="504.70" stroke="#000" stroke-width="1.2"/>
<text x="212.00" y="507.26" font-size="7.1" text-anchor="end" font-weight="bold" fill="#000" stroke="#000" stroke-width="0.22">100</text>
<line x1="212.80" y1="486.50" x2="215.80" y2="486.50" stroke="#000" stroke-width="1.2"/>
<text x="212.00" y="489.06" font-size="7.1" text-anchor="end" font-weight="bold" fill="#000" stroke="#000" stroke-width="0.22">200</text>
<line x1="212.80" y1="468.30" x2="215.80" y2="468.30" stroke="#000" stroke-width="1.2"/>
<text x="212.00" y="470.86" font-size="7.1" text-anchor="end" font-weight="bold" fill="#000" stroke="#000" stroke-width="0.22">300</text>
<line x1="212.80" y1="450.10" x2="215.80" y2="450.10" stroke="#000" stroke-width="1.2"/>
<text x="212.00" y="452.66" font-size="7.1" text-anchor="end" font-weight="bold" fill="#000" stroke="#000" stroke-width="0.22">400</text>
<line x1="215.20" y1="522.90" x2="215.20" y2="525.70" stroke="#000" stroke-width="1.2"/>
<text x="215.20" y="533.80" font-size="7.1" text-anchor="middle" font-weight="bold" fill="#000" stroke="#000" stroke-width="0.22">0</text>
<line x1="245.84" y1="522.90" x2="245.84" y2="525.70" stroke="#000" stroke-width="1.2"/>
<text x="245.84" y="533.80" font-size="7.1" text-anchor="middle" font-weight="bold" fill="#000" stroke="#000" stroke-width="0.22">4</text>
<line x1="276.48" y1="522.90" x2="276.48" y2="525.70" stroke="#000" stroke-width="1.2"/>
<text x="276.48" y="533.80" font-size="7.1" text-anchor="middle" font-weight="bold" fill="#000" stroke="#000" stroke-width="0.22">8</text>
<line x1="307.12" y1="522.90" x2="307.12" y2="525.70" stroke="#000" stroke-width="1.2"/>
<text x="307.12" y="533.80" font-size="7.1" text-anchor="middle" font-weight="bold" fill="#000" stroke="#000" stroke-width="0.22">12</text>
<line x1="337.76" y1="522.90" x2="337.76" y2="525.70" stroke="#000" stroke-width="1.2"/>
<text x="337.76" y="533.80" font-size="7.1" text-anchor="middle" font-weight="bold" fill="#000" stroke="#000" stroke-width="0.22">16</text>
<text x="276.40" y="545.90" font-size="8.2" text-anchor="middle" font-weight="bold" fill="#000" stroke="#000" stroke-width="0.22">Days after transplant</text>
<text x="195.10" y="482.50" font-size="7.9" text-anchor="middle" font-weight="bold" fill="#000" stroke="#000" stroke-width="0.22" transform="rotate(-90 195.10 482.50)" textLength="87.8" lengthAdjust="spacingAndGlyphs">CCL2 pg/100mg - Liver</text>
<polyline points="215.20,522.90 276.48,504.00 337.76,513.50" fill="none" stroke="#000" stroke-width="1.3" stroke-linejoin="miter"/>
<polyline points="215.20,522.90 276.48,488.70 337.76,502.70" fill="none" stroke="#000" stroke-width="1.3" stroke-linejoin="miter"/>
<polyline points="215.20,522.90 276.48,461.50 337.76,494.10" fill="none" stroke="#000" stroke-width="1.3" stroke-linejoin="miter"/>
<line x1="276.48" y1="501.40" x2="276.48" y2="507.50" stroke="#000" stroke-width="1.2"/>
<line x1="273.88" y1="501.40" x2="279.08" y2="501.40" stroke="#000" stroke-width="1.2"/>
<line x1="273.88" y1="507.50" x2="279.08" y2="507.50" stroke="#000" stroke-width="1.2"/>
<line x1="276.48" y1="480.60" x2="276.48" y2="496.00" stroke="#000" stroke-width="1.2"/>
<line x1="273.88" y1="480.60" x2="279.08" y2="480.60" stroke="#000" stroke-width="1.2"/>
<line x1="273.88" y1="496.00" x2="279.08" y2="496.00" stroke="#000" stroke-width="1.2"/>
<line x1="276.48" y1="452.90" x2="276.48" y2="473.10" stroke="#000" stroke-width="1.2"/>
<line x1="273.88" y1="452.90" x2="279.08" y2="452.90" stroke="#000" stroke-width="1.2"/>
<line x1="273.88" y1="473.10" x2="279.08" y2="473.10" stroke="#000" stroke-width="1.2"/>
<line x1="337.76" y1="490.60" x2="337.76" y2="513.50" stroke="#000" stroke-width="1.2"/>
<line x1="335.16" y1="490.60" x2="340.36" y2="490.60" stroke="#000" stroke-width="1.2"/>
<line x1="335.16" y1="513.50" x2="340.36" y2="513.50" stroke="#000" stroke-width="1.2"/>
<polygon points="213.00,521.25 217.40,521.25 215.20,525.10" fill="#000"/>
<polygon points="274.28,502.35 278.68,502.35 276.48,506.20" fill="#000"/>
<polygon points="335.56,511.85 339.96,511.85 337.76,515.70" fill="#000"/>
<rect x="213.00" y="520.70" width="4.40" height="4.40" fill="#000"/>
<rect x="274.28" y="486.50" width="4.40" height="4.40" fill="#000"/>
<rect x="335.56" y="500.50" width="4.40" height="4.40" fill="#000"/>
<circle cx="215.20" cy="522.90" r="1.60" fill="#fff" stroke="#000" stroke-width="1.2"/>
<circle cx="276.48" cy="461.50" r="1.60" fill="#fff" stroke="#000" stroke-width="1.2"/>
<circle cx="337.76" cy="494.10" r="1.60" fill="#fff" stroke="#000" stroke-width="1.2"/>
<polygon points="277.20,445.10 277.98,446.43 279.48,446.76 278.46,447.91 278.61,449.44 277.20,448.82 275.79,449.44 275.94,447.91 274.92,446.76 276.42,446.43" fill="#000"/>
<polygon points="339.80,484.10 340.58,485.43 342.08,485.76 341.06,486.91 341.21,488.44 339.80,487.82 338.39,488.44 338.54,486.91 337.52,485.76 339.02,485.43" fill="#000"/>
<polygon points="274.20,472.80 274.98,474.13 276.48,474.46 275.46,475.61 275.61,477.14 274.20,476.52 272.79,477.14 272.94,475.61 271.92,474.46 273.42,474.13" fill="#000"/>
<text x="281.70" y="477.36" font-size="6" text-anchor="middle" font-weight="bold" fill="#000" stroke="#000" stroke-width="0.2" font-style="italic">#</text>
<line x1="387.10" y1="441.20" x2="387.10" y2="523.40" stroke="#000" stroke-width="1.3"/>
<line x1="386.60" y1="522.90" x2="509.50" y2="522.90" stroke="#000" stroke-width="1.3"/>
<line x1="384.10" y1="504.76" x2="387.10" y2="504.76" stroke="#000" stroke-width="1.2"/>
<text x="383.30" y="507.32" font-size="7.1" text-anchor="end" font-weight="bold" fill="#000" stroke="#000" stroke-width="0.22">200</text>
<line x1="384.10" y1="486.62" x2="387.10" y2="486.62" stroke="#000" stroke-width="1.2"/>
<text x="383.30" y="489.18" font-size="7.1" text-anchor="end" font-weight="bold" fill="#000" stroke="#000" stroke-width="0.22">400</text>
<line x1="384.10" y1="468.48" x2="387.10" y2="468.48" stroke="#000" stroke-width="1.2"/>
<text x="383.30" y="471.04" font-size="7.1" text-anchor="end" font-weight="bold" fill="#000" stroke="#000" stroke-width="0.22">600</text>
<line x1="384.10" y1="450.34" x2="387.10" y2="450.34" stroke="#000" stroke-width="1.2"/>
<text x="383.30" y="452.90" font-size="7.1" text-anchor="end" font-weight="bold" fill="#000" stroke="#000" stroke-width="0.22">800</text>
<line x1="387.10" y1="522.90" x2="387.10" y2="525.70" stroke="#000" stroke-width="1.2"/>
<text x="387.10" y="533.80" font-size="7.1" text-anchor="middle" font-weight="bold" fill="#000" stroke="#000" stroke-width="0.22">0</text>
<line x1="417.50" y1="522.90" x2="417.50" y2="525.70" stroke="#000" stroke-width="1.2"/>
<text x="417.50" y="533.80" font-size="7.1" text-anchor="middle" font-weight="bold" fill="#000" stroke="#000" stroke-width="0.22">4</text>
<line x1="447.90" y1="522.90" x2="447.90" y2="525.70" stroke="#000" stroke-width="1.2"/>
<text x="447.90" y="533.80" font-size="7.1" text-anchor="middle" font-weight="bold" fill="#000" stroke="#000" stroke-width="0.22">8</text>
<line x1="478.30" y1="522.90" x2="478.30" y2="525.70" stroke="#000" stroke-width="1.2"/>
<text x="478.30" y="533.80" font-size="7.1" text-anchor="middle" font-weight="bold" fill="#000" stroke="#000" stroke-width="0.22">12</text>
<line x1="508.70" y1="522.90" x2="508.70" y2="525.70" stroke="#000" stroke-width="1.2"/>
<text x="508.70" y="533.80" font-size="7.1" text-anchor="middle" font-weight="bold" fill="#000" stroke="#000" stroke-width="0.22">16</text>
<text x="447.70" y="546.40" font-size="8.2" text-anchor="middle" font-weight="bold" fill="#000" stroke="#000" stroke-width="0.22">Days after transplant</text>
<text x="366.60" y="483.00" font-size="8.2" text-anchor="middle" font-weight="bold" fill="#000" stroke="#000" stroke-width="0.22" transform="rotate(-90 366.60 483.00)" textLength="83.0" lengthAdjust="spacingAndGlyphs">CCL2 pg/100mg - Gut</text>
<polyline points="387.10,522.90 447.90,510.60 508.70,522.30" fill="none" stroke="#000" stroke-width="1.3" stroke-linejoin="miter"/>
<polyline points="387.10,522.90 447.90,497.70 508.70,520.80" fill="none" stroke="#000" stroke-width="1.3" stroke-linejoin="miter"/>
<polyline points="387.10,522.90 447.90,462.30 508.70,504.80" fill="none" stroke="#000" stroke-width="1.3" stroke-linejoin="miter"/>
<line x1="447.90" y1="447.80" x2="447.90" y2="477.70" stroke="#000" stroke-width="1.2"/>
<line x1="445.30" y1="447.80" x2="450.50" y2="447.80" stroke="#000" stroke-width="1.2"/>
<line x1="445.30" y1="477.70" x2="450.50" y2="477.70" stroke="#000" stroke-width="1.2"/>
<line x1="508.70" y1="500.20" x2="508.70" y2="509.40" stroke="#000" stroke-width="1.2"/>
<line x1="506.10" y1="500.20" x2="511.30" y2="500.20" stroke="#000" stroke-width="1.2"/>
<line x1="506.10" y1="509.40" x2="511.30" y2="509.40" stroke="#000" stroke-width="1.2"/>
<polygon points="384.90,521.25 389.30,521.25 387.10,525.10" fill="#000"/>
<polygon points="445.70,508.95 450.10,508.95 447.90,512.80" fill="#000"/>
<polygon points="506.50,520.65 510.90,520.65 508.70,524.50" fill="#000"/>
<rect x="384.90" y="520.70" width="4.40" height="4.40" fill="#000"/>
<rect x="445.70" y="495.50" width="4.40" height="4.40" fill="#000"/>
<rect x="506.50" y="518.60" width="4.40" height="4.40" fill="#000"/>
<circle cx="387.10" cy="522.90" r="1.60" fill="#fff" stroke="#000" stroke-width="1.2"/>
<circle cx="447.90" cy="462.30" r="1.60" fill="#fff" stroke="#000" stroke-width="1.2"/>
<circle cx="508.70" cy="504.80" r="1.60" fill="#fff" stroke="#000" stroke-width="1.2"/>
<polygon points="447.70,440.50 448.48,441.83 449.98,442.16 448.96,443.31 449.11,444.84 447.70,444.22 446.29,444.84 446.44,443.31 445.42,442.16 446.92,441.83" fill="#000"/>
<polygon points="509.80,494.70 510.58,496.03 512.08,496.36 511.06,497.51 511.21,499.04 509.80,498.42 508.39,499.04 508.54,497.51 507.52,496.36 509.02,496.03" fill="#000"/>
<polygon points="444.00,487.60 444.78,488.93 446.28,489.26 445.26,490.41 445.41,491.94 444.00,491.32 442.59,491.94 442.74,490.41 441.72,489.26 443.22,488.93" fill="#000"/>
<text x="451.70" y="492.16" font-size="6" text-anchor="middle" font-weight="bold" fill="#000" stroke="#000" stroke-width="0.2" font-style="italic">#</text>
<text x="509.20" y="516.76" font-size="6" text-anchor="middle" font-weight="bold" fill="#000" stroke="#000" stroke-width="0.2" font-style="italic">#</text>
</svg>
</body></html>
